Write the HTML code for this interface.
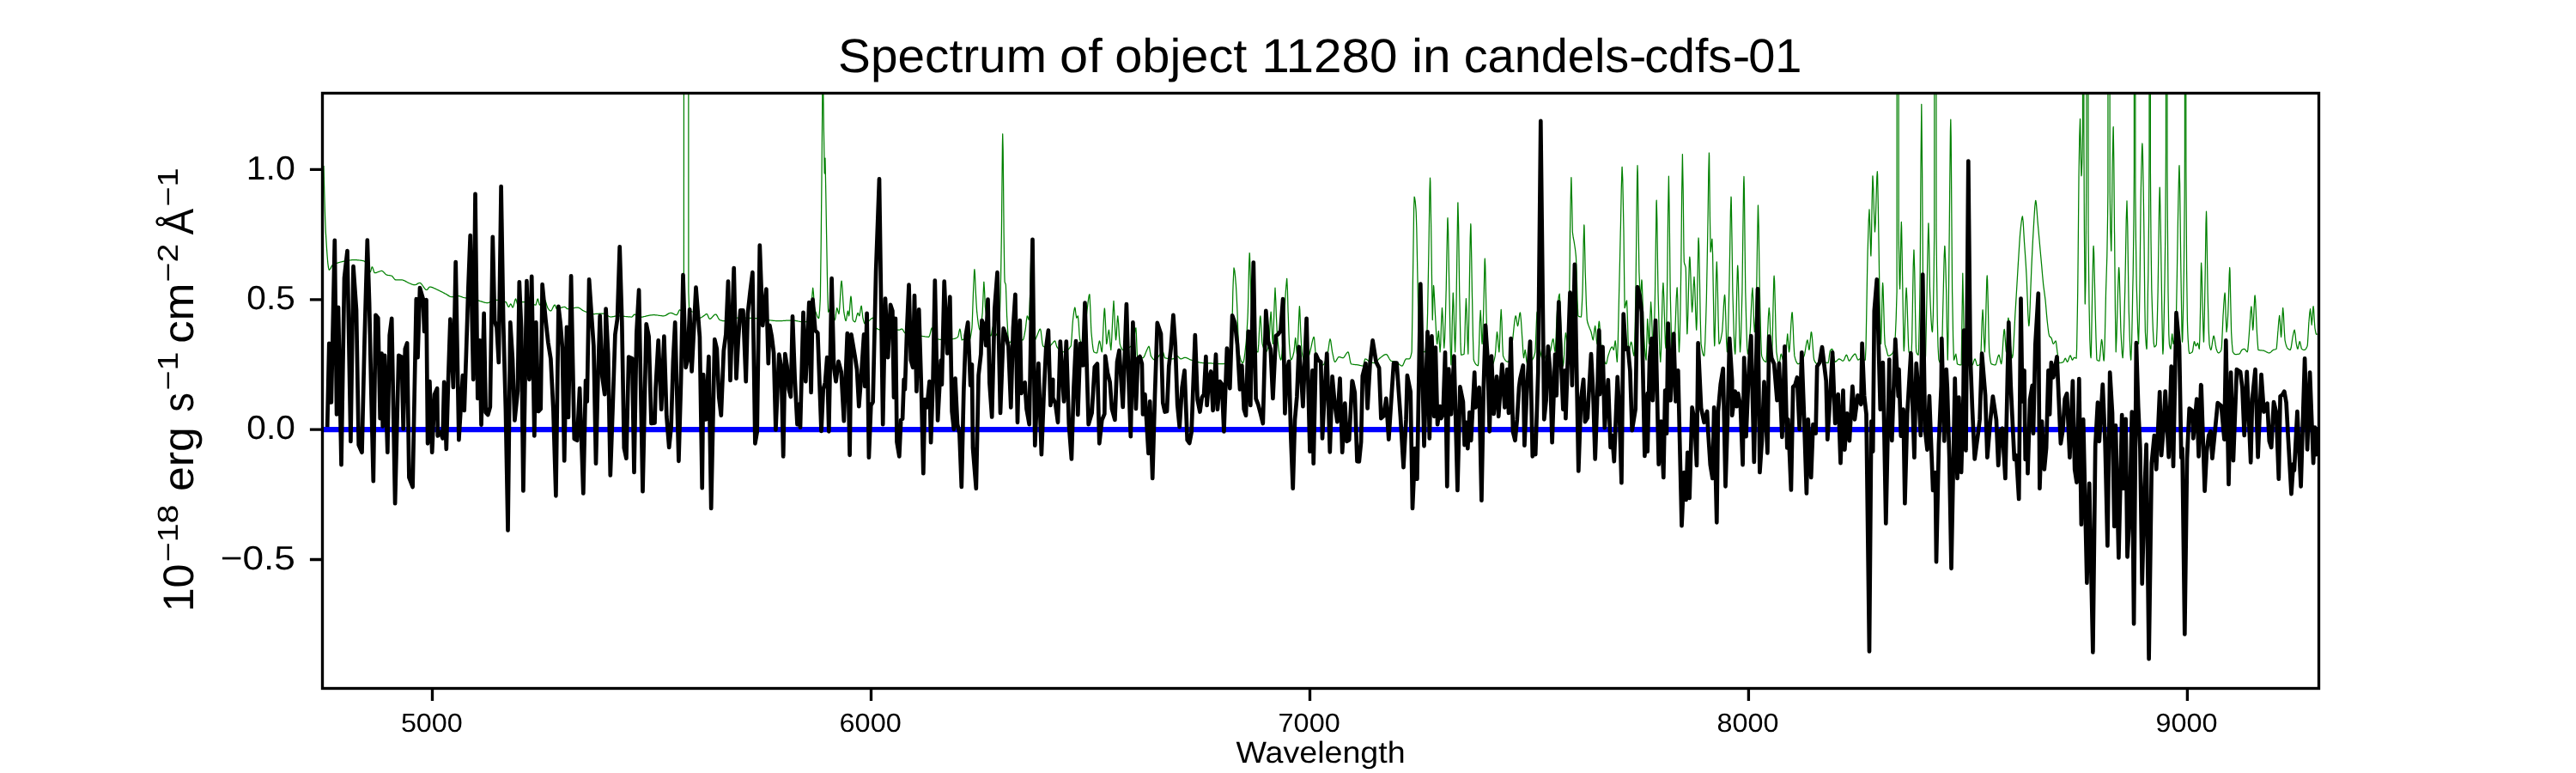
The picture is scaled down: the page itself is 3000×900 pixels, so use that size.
<!DOCTYPE html>
<html><head><meta charset="utf-8"><title>Spectrum</title>
<style>
html,body{margin:0;padding:0;background:#fff;}
body{width:3000px;height:900px;overflow:hidden;font-family:"Liberation Sans",sans-serif;}
svg{display:block;}
text{font-family:"Liberation Sans",sans-serif;fill:#000;}
</style></head><body>
<svg width="3000" height="900" viewBox="0 0 3000 900">
<rect width="3000" height="900" fill="#fff"/>
<defs><clipPath id="ax"><rect x="375.5" y="108.5" width="2325" height="693"/></clipPath></defs>
<g clip-path="url(#ax)" fill="none" stroke-linejoin="round" stroke-linecap="butt">
<path d="M375.5,500.1 L2700.5,500.1" stroke="#0000ff" stroke-width="6.2"/>
<path d="M377.0,193.1 L377.8,225.1 L378.6,252.6 L379.3,270.0 L379.4,271.2 L380.2,284.7 L381.0,296.7 L381.8,306.3 L382.6,312.4 L383.3,314.3 L383.4,314.2 L384.2,313.6 L385.0,312.4 L385.8,310.9 L386.6,309.4 L387.4,308.5 L387.5,308.4 L388.2,308.0 L389.0,307.6 L389.8,307.3 L390.6,307.0 L391.4,306.7 L392.2,306.4 L393.0,306.2 L393.3,306.1 L393.8,305.9 L394.6,305.7 L395.4,305.5 L396.2,305.2 L397.0,305.0 L397.8,304.8 L398.6,304.6 L399.4,304.4 L400.2,304.3 L400.3,304.2 L401.0,304.1 L401.8,303.9 L402.6,303.8 L403.4,303.6 L404.2,303.5 L405.0,303.3 L405.8,303.2 L406.6,303.1 L407.4,303.0 L408.2,302.9 L409.0,302.8 L409.8,302.7 L410.6,302.6 L411.4,302.6 L411.9,302.6 L412.2,302.6 L413.0,302.6 L413.8,302.6 L414.6,302.7 L415.4,302.7 L416.2,302.8 L417.0,302.8 L417.8,302.9 L418.6,303.0 L419.4,303.1 L420.2,303.2 L421.0,303.3 L421.8,303.4 L422.6,303.6 L423.4,303.7 L423.6,303.8 L424.2,304.0 L425.0,304.7 L425.8,305.7 L426.6,306.9 L427.4,308.2 L428.2,309.5 L428.2,309.6 L429.0,311.4 L429.8,313.8 L430.6,315.9 L431.3,316.6 L431.4,316.5 L432.2,314.2 L433.0,311.2 L433.4,310.8 L433.8,311.1 L434.6,313.3 L435.4,316.0 L436.2,317.7 L436.4,317.7 L437.0,317.7 L437.8,317.6 L438.6,317.3 L439.4,317.0 L440.2,316.7 L441.0,316.4 L441.8,316.0 L442.6,315.8 L443.4,315.5 L444.2,315.4 L444.5,315.4 L445.0,315.5 L445.8,315.9 L446.6,316.6 L447.4,317.5 L448.2,318.3 L449.0,319.2 L449.8,319.8 L450.4,320.1 L450.6,320.1 L451.4,320.3 L452.2,320.5 L453.0,320.6 L453.8,320.7 L454.6,320.8 L455.4,321.0 L456.2,321.2 L456.2,321.2 L457.0,321.8 L457.8,322.8 L458.6,323.9 L459.4,324.9 L460.2,325.7 L460.8,325.9 L461.0,325.9 L461.8,325.9 L462.6,325.9 L463.4,325.9 L464.2,325.9 L465.0,325.9 L465.8,325.9 L466.6,325.9 L467.4,325.9 L467.8,325.9 L468.2,325.9 L469.0,326.0 L469.8,326.3 L470.6,326.6 L471.4,327.0 L472.2,327.4 L473.0,327.9 L473.8,328.3 L474.6,328.8 L475.4,329.2 L476.0,329.4 L476.2,329.5 L477.0,329.8 L477.8,330.2 L478.6,330.5 L479.4,330.9 L480.2,331.2 L481.0,331.4 L481.8,331.6 L482.6,331.7 L483.0,331.7 L483.4,331.7 L484.2,331.5 L485.0,331.1 L485.8,330.6 L486.6,330.1 L487.4,329.7 L488.2,329.5 L488.8,329.4 L489.0,329.4 L489.8,329.7 L490.6,330.4 L491.4,331.4 L492.2,332.5 L493.0,333.7 L493.8,334.8 L494.6,335.9 L495.4,336.8 L496.2,337.4 L496.9,337.5 L497.0,337.5 L497.8,337.0 L498.6,336.0 L499.4,334.8 L500.2,334.1 L500.4,334.1 L501.0,334.1 L501.8,334.2 L502.6,334.4 L503.4,334.6 L504.2,334.9 L505.0,335.3 L505.8,335.6 L506.6,336.0 L507.4,336.4 L508.2,336.8 L509.0,337.2 L509.8,337.5 L509.8,337.6 L510.6,337.9 L511.4,338.3 L512.2,338.7 L513.0,339.1 L513.8,339.5 L514.6,339.9 L515.4,340.3 L516.2,340.7 L517.0,341.1 L517.8,341.6 L518.6,342.0 L519.1,342.2 L519.4,342.4 L520.2,342.8 L521.0,343.4 L521.8,343.9 L522.6,344.4 L523.4,344.9 L524.2,345.3 L525.0,345.5 L525.8,345.7 L526.1,345.7 L526.6,345.7 L527.4,345.6 L528.2,345.4 L529.0,345.3 L529.8,345.1 L530.6,344.9 L531.4,344.7 L532.2,344.6 L533.0,344.5 L533.0,344.5 L533.8,344.6 L534.6,344.7 L535.4,344.9 L536.2,345.2 L537.0,345.4 L537.8,345.7 L538.6,346.0 L539.4,346.3 L540.2,346.5 L541.0,346.7 L541.8,346.8 L542.4,346.9 L542.6,346.9 L543.4,346.9 L544.2,346.9 L545.0,346.9 L545.8,346.9 L546.6,346.9 L547.4,346.9 L548.2,346.9 L549.0,346.9 L549.3,346.9 L549.8,346.9 L550.6,347.0 L551.4,347.2 L552.2,347.5 L553.0,347.8 L553.8,348.2 L554.6,348.5 L555.4,349.0 L556.2,349.3 L557.0,349.7 L557.8,350.1 L558.6,350.3 L558.7,350.4 L559.4,350.6 L560.2,350.8 L561.0,351.1 L561.8,351.4 L562.6,351.6 L563.4,351.9 L564.2,352.1 L565.0,352.3 L565.8,352.5 L566.6,352.6 L567.4,352.7 L568.0,352.7 L568.2,352.7 L569.0,352.5 L569.8,352.1 L570.6,351.6 L571.4,351.0 L572.2,350.4 L573.0,349.9 L573.8,349.5 L574.6,349.2 L575.0,349.2 L575.4,349.2 L576.2,349.2 L577.0,349.2 L577.8,349.3 L578.6,349.3 L579.4,349.4 L580.2,349.5 L581.0,349.6 L581.8,349.7 L582.6,349.8 L583.4,350.0 L584.2,350.1 L585.0,350.3 L585.8,350.5 L586.6,350.8 L587.4,351.0 L588.2,351.3 L588.9,351.5 L589.0,351.5 L589.8,352.5 L590.6,354.3 L591.4,356.2 L592.2,357.3 L592.4,357.3 L593.0,356.9 L593.8,355.2 L594.6,353.9 L594.8,353.9 L595.4,354.6 L596.2,356.6 L597.0,358.0 L597.1,358.0 L597.8,357.0 L598.6,354.1 L599.4,350.8 L600.2,348.4 L600.6,348.0 L601.0,348.6 L601.8,351.7 L602.6,354.6 L602.9,355.0 L603.4,354.9 L604.2,354.4 L605.0,353.6 L605.8,352.7 L606.6,351.9 L607.4,351.5 L607.6,351.5 L608.2,351.5 L609.0,351.5 L609.8,351.5 L610.6,351.5 L611.4,351.5 L612.2,351.5 L612.2,351.5 L613.0,351.6 L613.8,351.7 L614.6,351.9 L615.4,352.2 L616.2,352.5 L617.0,352.8 L617.8,353.1 L618.6,353.5 L619.4,353.9 L620.2,354.2 L621.0,354.5 L621.8,354.7 L622.6,354.9 L623.4,355.0 L623.9,355.0 L624.2,354.7 L625.0,351.8 L625.8,348.6 L626.2,348.0 L626.6,348.5 L627.4,351.6 L628.2,354.6 L628.5,355.0 L629.0,354.9 L629.8,354.3 L630.6,353.4 L631.4,352.2 L632.2,351.0 L633.0,350.0 L633.8,349.4 L634.4,349.2 L634.6,349.3 L635.4,350.8 L636.2,353.5 L637.0,356.3 L637.8,358.4 L637.9,358.5 L638.6,359.6 L639.4,360.6 L640.2,361.5 L641.0,361.9 L641.4,362.0 L641.8,361.8 L642.6,360.8 L643.4,359.2 L644.2,357.4 L645.0,355.9 L645.8,355.1 L646.0,355.0 L646.6,355.7 L647.4,358.0 L648.2,359.6 L648.3,359.7 L649.0,359.6 L649.8,359.5 L650.6,359.3 L651.4,359.1 L652.2,358.8 L653.0,358.5 L653.8,358.2 L654.6,357.9 L655.4,357.7 L656.2,357.5 L657.0,357.4 L657.7,357.3 L657.8,357.4 L658.6,357.8 L659.4,358.5 L660.2,359.2 L661.0,359.7 L661.2,359.7 L661.8,359.7 L662.6,359.6 L663.4,359.5 L664.2,359.4 L665.0,359.3 L665.8,359.1 L666.6,358.9 L667.4,358.8 L668.2,358.6 L669.0,358.5 L669.8,358.3 L670.6,358.2 L671.4,358.1 L672.2,358.1 L672.8,358.0 L673.0,358.1 L673.8,358.2 L674.6,358.6 L675.4,359.0 L676.2,359.6 L677.0,360.2 L677.8,360.8 L678.6,361.4 L679.4,361.8 L679.8,362.0 L680.2,362.2 L681.0,362.5 L681.8,362.8 L682.6,363.2 L683.4,363.5 L684.2,363.8 L685.0,364.1 L685.8,364.4 L686.6,364.7 L687.4,364.9 L688.2,365.1 L689.0,365.3 L689.8,365.4 L690.6,365.5 L691.4,365.5 L691.4,365.5 L692.2,365.5 L693.0,365.5 L693.8,365.4 L694.6,365.4 L695.4,365.4 L696.2,365.3 L697.0,365.3 L697.8,365.2 L698.6,365.2 L699.4,365.1 L700.2,365.1 L701.0,365.1 L701.8,365.0 L702.6,365.0 L703.1,365.0 L703.4,365.0 L704.2,365.2 L705.0,365.6 L705.8,366.1 L706.6,366.6 L707.4,367.2 L708.2,367.7 L709.0,368.3 L709.8,368.7 L710.6,368.9 L711.2,369.0 L711.4,369.0 L712.2,368.9 L713.0,368.9 L713.8,368.7 L714.6,368.6 L715.4,368.4 L716.2,368.2 L717.0,368.1 L717.8,367.9 L718.6,367.9 L719.4,367.8 L719.4,367.8 L720.2,367.8 L721.0,367.9 L721.8,367.9 L722.6,367.9 L723.4,368.0 L724.2,368.1 L725.0,368.1 L725.8,368.2 L726.6,368.3 L727.4,368.4 L728.2,368.5 L729.0,368.6 L729.8,368.6 L730.6,368.7 L731.4,368.8 L732.2,368.9 L733.0,368.9 L733.8,368.9 L734.6,369.0 L735.4,369.0 L735.7,369.0 L736.2,368.8 L737.0,368.0 L737.8,367.0 L738.6,366.2 L739.2,366.0 L739.4,366.0 L740.2,366.7 L741.0,367.9 L741.8,369.1 L742.6,369.7 L742.7,369.7 L743.4,369.7 L744.2,369.6 L745.0,369.6 L745.8,369.5 L746.6,369.3 L747.4,369.2 L748.2,369.1 L749.0,368.9 L749.8,368.7 L750.6,368.5 L751.4,368.3 L752.2,368.1 L753.0,367.9 L753.8,367.7 L754.6,367.6 L755.4,367.4 L756.2,367.2 L757.0,367.1 L757.8,366.9 L758.6,366.8 L759.4,366.8 L760.2,366.7 L761.0,366.7 L761.3,366.7 L761.8,366.7 L762.6,366.7 L763.4,366.8 L764.2,366.8 L765.0,366.9 L765.8,367.0 L766.6,367.2 L767.4,367.3 L768.2,367.4 L769.0,367.5 L769.8,367.6 L770.6,367.7 L771.4,367.8 L772.2,367.8 L773.0,367.8 L773.0,367.8 L773.8,367.7 L774.6,367.5 L775.4,367.1 L776.2,366.6 L777.0,366.1 L777.8,365.6 L778.6,365.1 L779.4,364.7 L780.2,364.5 L781.0,364.3 L781.1,364.3 L781.8,364.4 L782.6,364.6 L783.4,364.9 L784.2,365.3 L785.0,365.7 L785.8,366.1 L786.6,366.4 L787.4,366.6 L788.1,366.7 L788.2,366.6 L789.0,365.7 L789.8,363.9 L790.6,362.0 L791.4,360.9 L791.6,360.8 L792.2,361.0 L793.0,361.7 L793.8,362.4 L794.6,363.0 L795.1,363.2 L795.4,361.1 L796.2,330.0 L796.4,316.6 L796.9,-3000.0 L797.0,-3000.0 L797.8,-3000.0 L798.6,-3000.0 L799.4,-3000.0 L800.2,-3000.0 L801.0,-3000.0 L801.4,-3000.0 L801.8,-289.9 L801.9,339.9 L802.6,358.6 L802.8,359.7 L803.4,360.6 L804.2,361.6 L805.0,362.3 L805.8,362.8 L806.6,363.0 L807.4,363.2 L807.9,363.2 L808.2,363.1 L809.0,362.7 L809.8,361.9 L810.6,361.0 L811.4,360.2 L812.2,359.7 L812.6,359.7 L813.0,360.6 L813.8,365.4 L814.6,369.7 L814.9,370.2 L815.4,370.1 L816.2,369.9 L817.0,369.5 L817.8,369.0 L818.6,368.4 L819.4,367.9 L819.5,367.8 L820.2,367.4 L821.0,366.7 L821.8,366.0 L822.6,365.6 L823.0,365.5 L823.4,365.7 L824.2,367.0 L825.0,368.9 L825.8,370.7 L826.5,371.3 L826.6,371.3 L827.4,371.1 L828.2,370.6 L829.0,369.8 L829.8,368.9 L830.6,368.0 L831.4,367.1 L832.2,366.5 L833.0,366.0 L833.5,366.0 L833.8,366.0 L834.6,366.8 L835.4,368.1 L836.2,369.7 L837.0,371.2 L837.8,372.2 L838.2,372.5 L838.6,372.7 L839.4,373.0 L840.2,373.2 L841.0,373.4 L841.8,373.6 L842.6,373.6 L842.8,373.6 L843.4,373.6 L844.2,373.6 L845.0,373.5 L845.8,373.3 L846.6,373.2 L847.4,373.0 L848.2,372.8 L849.0,372.5 L849.8,372.3 L850.6,372.0 L851.4,371.8 L852.2,371.5 L853.0,371.3 L853.8,371.0 L854.6,370.8 L855.4,370.6 L856.2,370.5 L857.0,370.3 L857.8,370.2 L858.6,370.2 L859.1,370.2 L859.4,370.2 L860.2,370.2 L861.0,370.2 L861.8,370.2 L862.6,370.2 L863.4,370.2 L864.2,370.2 L865.0,370.2 L865.8,370.2 L866.6,370.2 L867.4,370.2 L868.2,370.2 L869.0,370.2 L869.8,370.3 L870.6,370.3 L871.4,370.3 L872.2,370.3 L873.0,370.3 L873.8,370.3 L874.6,370.4 L875.4,370.4 L876.2,370.4 L877.0,370.4 L877.8,370.5 L878.6,370.5 L879.4,370.5 L880.2,370.5 L881.0,370.6 L881.8,370.6 L882.4,370.6 L882.6,370.6 L883.4,370.7 L884.2,370.8 L885.0,370.9 L885.8,371.0 L886.6,371.1 L887.4,371.3 L888.2,371.4 L889.0,371.6 L889.8,371.7 L890.6,371.9 L891.4,372.1 L892.2,372.2 L893.0,372.3 L893.8,372.4 L894.1,372.5 L894.6,372.5 L895.4,372.7 L896.2,372.8 L897.0,372.9 L897.8,373.0 L898.6,373.1 L899.4,373.2 L900.2,373.3 L901.0,373.4 L901.8,373.4 L902.6,373.5 L903.4,373.6 L904.2,373.6 L905.0,373.6 L905.7,373.6 L905.8,373.6 L906.6,373.6 L907.4,373.6 L908.2,373.6 L909.0,373.6 L909.8,373.5 L910.6,373.5 L911.4,373.5 L912.2,373.4 L913.0,373.4 L913.8,373.3 L914.6,373.3 L915.4,373.2 L916.2,373.2 L917.0,373.1 L917.8,373.1 L918.6,373.0 L919.4,373.0 L920.2,373.0 L921.0,373.0 L921.8,373.0 L922.0,373.0 L922.6,373.0 L923.4,373.0 L924.2,373.1 L925.0,373.2 L925.8,373.3 L926.6,373.4 L927.4,373.6 L928.2,373.7 L929.0,373.9 L929.8,374.0 L930.6,374.2 L931.4,374.3 L932.2,374.5 L933.0,374.6 L933.8,374.7 L934.6,374.8 L935.4,374.8 L936.0,374.8 L936.2,374.8 L937.0,374.8 L937.8,374.7 L938.6,374.6 L939.4,374.4 L940.2,374.1 L941.0,373.7 L941.8,373.3 L942.6,372.8 L943.0,372.5 L943.4,371.3 L944.2,365.0 L944.8,358.5 L945.0,357.0 L945.8,344.6 L946.6,335.4 L946.7,335.2 L947.4,341.4 L948.2,354.7 L948.6,358.5 L949.0,360.3 L949.8,362.7 L950.0,363.2 L950.6,364.9 L951.4,367.2 L952.2,369.2 L953.0,370.4 L953.5,370.6 L953.8,369.8 L954.6,361.1 L955.2,349.9 L955.4,343.5 L956.2,284.2 L956.8,225.0 L957.0,205.7 L957.8,113.6 L957.8,108.0 L958.3,69.9 L958.6,85.1 L958.8,108.0 L959.4,152.1 L960.2,201.1 L960.3,202.0 L961.0,184.1 L961.0,184.1 L961.6,215.0 L961.8,225.4 L962.6,273.6 L963.4,320.3 L964.1,349.9 L964.2,353.0 L964.6,363.2 L965.0,363.0 L965.8,361.4 L966.6,359.0 L966.7,358.5 L967.4,355.1 L968.2,350.2 L968.6,349.2 L969.0,352.3 L969.8,366.1 L970.0,367.8 L970.6,369.8 L971.4,371.7 L972.2,372.5 L972.3,372.5 L973.0,369.8 L973.8,362.9 L974.6,358.5 L974.7,358.5 L975.4,360.1 L976.2,363.6 L977.0,365.5 L977.0,365.5 L977.8,358.9 L978.6,344.6 L979.4,331.3 L980.0,327.1 L980.2,327.4 L981.0,335.7 L981.8,349.5 L982.6,361.3 L982.8,363.2 L983.4,366.9 L984.2,371.3 L985.0,373.6 L985.1,373.6 L985.8,371.4 L986.6,365.7 L987.4,362.0 L987.5,362.0 L988.2,365.9 L988.6,367.8 L989.0,366.4 L989.8,356.6 L990.6,346.6 L991.0,345.0 L991.4,347.3 L992.2,359.2 L993.0,370.8 L993.3,372.5 L993.8,373.3 L994.6,374.3 L995.4,374.8 L995.6,374.8 L996.2,374.1 L997.0,371.3 L997.8,367.7 L998.6,365.0 L999.1,364.3 L999.4,364.6 L1000.2,366.9 L1000.7,367.8 L1001.0,367.5 L1001.8,362.9 L1002.6,357.5 L1003.1,356.2 L1003.4,357.0 L1004.2,364.0 L1004.9,370.2 L1005.0,370.4 L1005.8,373.8 L1006.6,376.3 L1007.3,377.1 L1007.4,377.1 L1008.2,376.9 L1009.0,376.4 L1009.8,375.7 L1010.6,374.9 L1011.4,374.1 L1012.2,373.3 L1013.0,372.6 L1013.1,372.5 L1013.8,371.9 L1014.6,371.2 L1015.4,370.6 L1016.2,370.2 L1016.6,370.2 L1017.0,370.6 L1017.8,373.1 L1018.6,376.9 L1019.4,380.3 L1020.1,381.8 L1020.2,381.9 L1021.0,382.4 L1021.8,382.9 L1022.6,383.3 L1023.4,383.7 L1024.2,383.9 L1025.0,384.1 L1025.8,384.1 L1025.9,384.1 L1026.6,384.1 L1027.4,384.1 L1028.2,384.1 L1029.0,384.1 L1029.8,384.1 L1030.6,384.1 L1031.4,384.1 L1032.2,384.1 L1033.0,384.1 L1033.8,384.1 L1034.6,384.1 L1035.4,384.1 L1036.2,384.1 L1037.0,384.1 L1037.8,384.1 L1038.6,384.1 L1039.4,384.1 L1040.2,384.1 L1041.0,384.1 L1041.8,384.1 L1042.6,384.1 L1043.4,384.1 L1044.2,384.1 L1045.0,384.1 L1045.8,384.1 L1046.6,384.1 L1046.9,384.1 L1047.4,384.1 L1048.2,383.8 L1049.0,383.4 L1049.8,383.0 L1050.4,383.0 L1050.6,383.0 L1051.4,383.9 L1052.2,385.3 L1053.0,386.7 L1053.8,387.6 L1053.9,387.6 L1054.6,387.9 L1055.4,388.2 L1056.2,388.4 L1057.0,388.7 L1057.8,388.9 L1058.6,389.1 L1059.4,389.3 L1060.2,389.4 L1061.0,389.6 L1061.8,389.7 L1062.6,389.9 L1063.4,390.0 L1064.2,390.1 L1065.0,390.2 L1065.8,390.3 L1066.6,390.4 L1067.4,390.5 L1068.2,390.6 L1069.0,390.7 L1069.8,390.8 L1070.6,390.9 L1071.4,391.0 L1072.2,391.1 L1072.5,391.1 L1073.0,391.2 L1073.8,391.3 L1074.6,391.5 L1075.4,391.6 L1076.2,391.7 L1077.0,391.8 L1077.8,392.0 L1078.6,392.1 L1079.4,392.2 L1080.2,392.2 L1081.0,392.3 L1081.8,392.3 L1081.8,392.3 L1082.6,390.9 L1083.4,387.8 L1084.2,384.3 L1085.0,382.0 L1085.3,381.8 L1085.8,382.9 L1086.6,387.6 L1087.4,391.8 L1087.6,392.3 L1088.2,392.7 L1089.0,393.3 L1089.8,393.8 L1090.6,394.2 L1091.4,394.5 L1092.2,394.8 L1093.0,395.0 L1093.8,395.2 L1094.6,395.3 L1095.4,395.3 L1095.8,395.3 L1096.2,395.3 L1097.0,395.3 L1097.8,395.3 L1098.6,395.3 L1099.4,395.3 L1100.2,395.2 L1101.0,395.2 L1101.8,395.2 L1102.6,395.1 L1103.4,395.1 L1104.2,395.1 L1105.0,395.0 L1105.8,395.0 L1106.6,394.9 L1107.4,394.8 L1108.2,394.8 L1109.0,394.7 L1109.8,394.6 L1109.8,394.6 L1110.6,394.5 L1111.4,394.4 L1112.2,394.1 L1113.0,393.8 L1113.8,393.5 L1114.6,393.0 L1115.4,392.4 L1115.6,392.3 L1116.2,390.4 L1117.0,386.0 L1117.8,383.0 L1117.9,383.0 L1118.6,385.6 L1119.4,391.9 L1120.2,395.8 L1120.2,395.8 L1121.0,395.7 L1121.8,395.3 L1122.6,394.7 L1123.4,393.9 L1123.7,393.4 L1124.2,391.7 L1125.0,386.3 L1125.6,384.1 L1125.8,384.3 L1126.6,387.9 L1127.4,393.2 L1128.2,396.8 L1128.4,396.9 L1129.0,396.4 L1129.8,394.3 L1130.6,390.6 L1131.4,385.6 L1131.9,381.8 L1132.2,377.3 L1133.0,354.3 L1133.5,339.9 L1133.8,333.3 L1134.6,315.8 L1134.9,313.6 L1135.4,318.8 L1136.2,337.6 L1136.3,339.9 L1137.0,352.7 L1137.7,363.2 L1137.8,364.0 L1138.6,371.2 L1139.4,377.4 L1140.2,381.9 L1141.0,384.0 L1141.2,384.1 L1141.8,383.1 L1142.6,378.7 L1143.4,371.9 L1144.2,363.6 L1144.2,363.2 L1145.0,345.0 L1145.8,328.4 L1145.9,328.2 L1146.6,339.3 L1147.4,357.4 L1147.5,358.5 L1148.2,363.6 L1148.9,367.8 L1149.0,368.6 L1149.8,376.3 L1150.5,381.8 L1150.6,382.1 L1151.4,385.4 L1152.2,388.1 L1153.0,390.1 L1153.8,391.1 L1154.0,391.1 L1154.6,389.5 L1155.4,384.4 L1156.2,380.8 L1156.3,380.6 L1157.0,382.6 L1157.8,387.8 L1158.6,391.1 L1158.7,391.1 L1159.4,390.9 L1160.2,390.2 L1161.0,388.9 L1161.8,387.1 L1162.6,384.6 L1163.3,381.8 L1163.4,381.5 L1164.2,369.4 L1165.0,346.6 L1165.2,339.9 L1165.8,308.9 L1166.4,270.0 L1166.6,250.2 L1167.4,170.1 L1167.7,155.9 L1168.2,175.8 L1169.0,257.1 L1169.1,270.0 L1169.8,318.4 L1170.1,328.2 L1170.6,329.6 L1171.2,331.0 L1171.4,332.4 L1172.2,355.3 L1172.6,367.8 L1173.0,374.3 L1173.8,388.6 L1174.6,398.0 L1175.0,399.3 L1175.4,399.2 L1176.2,398.7 L1177.0,397.9 L1177.8,397.0 L1178.6,396.2 L1179.4,395.8 L1179.6,395.8 L1180.2,395.8 L1181.0,395.8 L1181.8,395.8 L1182.6,395.8 L1183.4,395.8 L1184.2,395.8 L1185.0,395.8 L1185.8,395.8 L1186.6,395.8 L1187.4,395.8 L1188.2,395.8 L1189.0,395.8 L1189.8,395.8 L1190.6,395.8 L1191.3,395.8 L1191.4,395.7 L1192.2,393.9 L1193.0,390.2 L1193.8,385.7 L1194.1,384.1 L1194.6,380.4 L1195.4,373.1 L1196.2,368.1 L1196.4,367.8 L1197.0,368.9 L1197.8,371.7 L1198.3,372.5 L1198.6,369.6 L1199.4,348.1 L1199.7,339.9 L1200.2,318.5 L1201.0,291.2 L1201.1,291.0 L1201.8,311.3 L1202.5,339.9 L1202.6,344.2 L1203.4,370.8 L1204.1,386.5 L1204.2,387.7 L1205.0,395.1 L1205.3,395.8 L1205.8,395.3 L1206.6,393.6 L1207.4,391.5 L1207.6,391.1 L1208.2,389.7 L1209.0,387.6 L1209.8,385.5 L1210.6,383.8 L1211.4,383.0 L1211.5,383.0 L1212.2,385.2 L1213.0,391.9 L1213.8,399.1 L1214.6,402.8 L1214.6,402.8 L1215.4,403.4 L1216.2,403.9 L1217.0,404.3 L1217.8,404.6 L1218.6,404.9 L1219.4,405.0 L1220.2,405.1 L1220.4,405.1 L1221.0,405.0 L1221.8,404.4 L1222.6,403.5 L1223.4,402.5 L1224.2,401.4 L1225.0,400.5 L1225.0,400.4 L1225.8,399.6 L1226.6,398.5 L1227.4,397.6 L1228.2,397.0 L1228.5,396.9 L1229.0,397.5 L1229.8,400.4 L1230.6,403.3 L1230.9,403.9 L1231.4,404.7 L1232.2,405.7 L1233.0,406.7 L1233.8,407.6 L1234.6,408.3 L1235.4,408.9 L1236.2,409.4 L1237.0,409.6 L1237.8,409.8 L1237.9,409.8 L1238.6,409.7 L1239.4,409.6 L1240.2,409.4 L1241.0,409.1 L1241.8,408.7 L1242.6,408.2 L1243.4,407.6 L1244.2,406.8 L1245.0,406.0 L1245.8,404.9 L1246.6,403.7 L1247.2,402.8 L1247.4,401.9 L1248.2,392.1 L1249.0,378.8 L1249.5,372.5 L1249.8,370.1 L1250.6,363.4 L1251.4,358.9 L1251.8,358.0 L1252.2,359.2 L1253.0,366.2 L1253.7,370.2 L1253.8,370.1 L1254.6,368.8 L1255.3,367.8 L1255.4,367.9 L1256.2,375.9 L1257.0,389.3 L1257.7,395.8 L1257.8,396.1 L1258.6,397.9 L1259.4,399.2 L1260.2,400.1 L1261.0,400.4 L1261.2,400.4 L1261.8,399.1 L1262.6,394.2 L1263.4,387.0 L1264.2,378.6 L1265.0,370.3 L1265.8,363.3 L1265.8,363.2 L1266.6,356.7 L1267.4,349.6 L1268.2,344.3 L1268.8,342.7 L1269.0,343.2 L1269.8,358.8 L1270.6,380.5 L1270.9,386.5 L1271.4,391.6 L1272.2,399.9 L1273.0,406.2 L1273.8,409.5 L1274.0,409.8 L1274.6,410.1 L1275.4,410.5 L1276.2,410.8 L1277.0,410.9 L1277.5,410.9 L1277.8,410.5 L1278.6,406.5 L1279.4,401.1 L1280.2,397.3 L1280.5,396.9 L1281.0,398.0 L1281.8,402.7 L1282.6,407.8 L1283.3,409.8 L1283.4,409.5 L1284.2,397.1 L1284.9,381.8 L1285.0,380.4 L1285.8,364.1 L1286.3,359.0 L1286.6,360.4 L1287.4,374.7 L1287.9,386.5 L1288.2,392.5 L1288.6,400.4 L1289.0,399.7 L1289.8,394.4 L1290.6,387.7 L1291.4,384.1 L1291.4,384.1 L1292.2,389.9 L1293.0,401.4 L1293.8,407.4 L1293.8,407.4 L1294.6,397.4 L1295.4,379.4 L1295.6,374.8 L1296.2,362.6 L1297.0,350.4 L1297.0,350.4 L1297.8,363.9 L1298.4,379.5 L1298.6,382.5 L1299.4,395.0 L1299.6,395.8 L1300.2,390.1 L1301.0,375.0 L1301.7,367.8 L1301.8,368.0 L1302.6,376.5 L1303.4,390.6 L1304.2,400.2 L1304.2,400.4 L1305.0,402.9 L1305.8,405.1 L1306.6,406.6 L1307.4,407.3 L1307.7,407.4 L1308.2,407.4 L1309.0,407.3 L1309.8,407.2 L1310.6,407.0 L1311.4,406.8 L1312.2,406.5 L1313.0,406.1 L1313.8,405.6 L1314.6,405.1 L1315.4,404.5 L1316.2,403.8 L1317.0,403.1 L1317.8,402.3 L1318.6,401.4 L1319.4,400.4 L1319.4,400.4 L1320.2,397.3 L1321.0,391.7 L1321.8,385.8 L1322.6,382.1 L1322.9,381.8 L1323.4,389.3 L1324.2,411.0 L1324.5,414.4 L1325.0,414.8 L1325.8,415.4 L1326.6,415.8 L1327.4,416.2 L1328.2,416.4 L1329.0,416.6 L1329.8,416.7 L1330.6,416.7 L1331.0,416.7 L1331.4,416.6 L1332.2,415.7 L1333.0,414.1 L1333.8,412.1 L1334.6,409.9 L1335.4,408.0 L1335.7,407.4 L1336.2,406.3 L1337.0,404.5 L1337.8,403.3 L1338.0,403.2 L1338.6,404.7 L1339.4,409.7 L1340.2,414.0 L1340.3,414.4 L1341.0,415.5 L1341.8,416.7 L1342.6,417.7 L1343.4,418.4 L1344.2,418.9 L1345.0,419.1 L1345.0,419.1 L1345.8,418.9 L1346.6,418.4 L1347.4,417.6 L1348.2,416.5 L1349.0,415.4 L1349.8,414.2 L1350.6,413.0 L1351.4,411.9 L1352.2,411.0 L1353.0,410.3 L1353.8,409.8 L1354.3,409.8 L1354.6,410.0 L1355.4,412.7 L1356.2,415.9 L1356.6,416.7 L1357.0,416.8 L1357.8,417.0 L1358.6,417.2 L1359.4,417.4 L1360.2,417.5 L1361.0,417.6 L1361.8,417.7 L1362.6,417.8 L1363.4,417.8 L1364.2,417.9 L1365.0,417.9 L1365.8,417.9 L1366.0,417.9 L1366.6,417.7 L1367.4,417.1 L1368.2,416.3 L1369.0,415.4 L1369.8,414.7 L1370.6,414.4 L1370.6,414.4 L1371.4,414.7 L1372.2,415.3 L1373.0,416.2 L1373.8,417.1 L1374.6,417.7 L1375.3,417.9 L1375.4,417.9 L1376.2,417.7 L1377.0,417.4 L1377.8,417.0 L1378.6,416.6 L1379.4,416.3 L1379.9,416.3 L1380.2,416.3 L1381.0,416.4 L1381.8,416.6 L1382.6,417.0 L1383.4,417.4 L1384.2,417.8 L1385.0,418.2 L1385.8,418.6 L1386.6,419.0 L1386.9,419.1 L1387.4,419.2 L1388.2,419.5 L1389.0,419.7 L1389.8,420.0 L1390.6,420.2 L1391.4,420.5 L1392.2,420.7 L1393.0,421.0 L1393.8,421.2 L1394.6,421.4 L1395.4,421.6 L1396.2,421.8 L1397.0,422.0 L1397.8,422.2 L1398.6,422.3 L1399.4,422.4 L1400.2,422.5 L1400.9,422.6 L1401.0,422.6 L1401.8,422.6 L1402.6,422.7 L1403.4,422.7 L1404.2,422.7 L1405.0,422.8 L1405.8,422.8 L1406.6,422.8 L1407.4,422.8 L1408.2,422.9 L1409.0,422.9 L1409.8,422.9 L1410.6,422.9 L1411.4,423.0 L1412.2,423.0 L1412.6,423.0 L1413.0,423.1 L1413.8,423.1 L1414.6,423.2 L1415.4,423.2 L1416.2,423.3 L1417.0,423.3 L1417.8,423.4 L1418.6,423.5 L1419.4,423.5 L1420.2,423.6 L1421.0,423.6 L1421.8,423.7 L1422.6,423.7 L1423.4,423.7 L1424.2,423.7 L1424.2,423.7 L1425.0,423.6 L1425.8,423.3 L1426.6,422.9 L1427.4,422.2 L1428.2,421.4 L1429.0,420.5 L1429.8,419.4 L1430.0,419.1 L1430.6,417.9 L1431.4,415.2 L1432.2,411.0 L1433.0,405.2 L1433.8,397.4 L1434.6,387.7 L1434.7,386.5 L1435.4,359.2 L1435.8,339.9 L1436.2,328.8 L1437.0,311.9 L1437.0,311.9 L1437.8,314.8 L1438.6,322.0 L1439.3,330.6 L1439.4,331.2 L1440.2,345.5 L1441.0,363.2 L1441.0,363.6 L1441.8,386.9 L1442.6,407.2 L1442.8,409.8 L1443.4,412.7 L1444.2,416.2 L1445.0,418.9 L1445.8,420.9 L1446.6,422.1 L1447.4,422.6 L1447.5,422.6 L1448.2,421.3 L1449.0,417.3 L1449.8,411.3 L1450.6,404.1 L1451.0,400.4 L1451.4,396.2 L1452.2,385.0 L1453.0,370.2 L1453.3,363.2 L1453.8,346.0 L1454.6,307.7 L1455.2,294.5 L1455.4,296.0 L1456.2,320.8 L1457.0,354.5 L1457.3,363.2 L1457.8,376.5 L1458.6,394.6 L1459.1,400.4 L1459.4,401.3 L1460.2,403.7 L1461.0,405.7 L1461.8,407.2 L1462.6,408.4 L1463.4,409.2 L1464.2,409.6 L1465.0,409.8 L1465.0,409.7 L1465.8,400.9 L1466.6,383.6 L1467.4,369.8 L1467.8,367.8 L1468.2,370.5 L1469.0,384.3 L1469.8,398.1 L1470.1,400.4 L1470.6,402.4 L1471.4,405.1 L1472.2,407.3 L1473.0,408.8 L1473.8,409.6 L1474.3,409.8 L1474.6,409.7 L1475.4,408.7 L1476.2,406.7 L1477.0,403.9 L1477.8,400.4 L1477.8,400.3 L1478.6,388.2 L1479.4,370.7 L1480.1,363.2 L1480.2,363.3 L1481.0,375.3 L1481.8,393.6 L1482.4,400.4 L1482.6,399.5 L1483.4,377.0 L1483.8,363.2 L1484.2,352.4 L1485.0,335.2 L1485.0,335.2 L1485.8,350.8 L1486.4,367.8 L1486.6,372.3 L1487.4,389.0 L1487.6,391.1 L1488.2,397.9 L1489.0,405.6 L1489.8,411.9 L1490.6,416.4 L1491.4,418.8 L1491.7,419.1 L1492.2,418.0 L1493.0,411.1 L1493.8,399.9 L1494.6,386.2 L1495.4,372.0 L1495.9,363.2 L1496.2,359.1 L1497.0,345.1 L1497.3,339.9 L1497.8,333.2 L1498.6,324.6 L1498.7,324.3 L1499.4,337.5 L1500.1,363.2 L1500.2,364.8 L1501.0,388.6 L1501.5,400.4 L1501.8,404.3 L1502.6,414.6 L1503.4,419.1 L1503.4,419.1 L1504.2,418.4 L1505.0,416.7 L1505.8,414.2 L1506.6,411.0 L1506.9,409.8 L1507.4,405.7 L1508.2,396.5 L1508.7,393.4 L1509.0,394.6 L1509.8,406.5 L1510.4,412.1 L1510.6,411.4 L1511.4,399.7 L1512.2,382.8 L1512.2,381.8 L1513.0,362.2 L1513.4,356.6 L1513.8,360.7 L1514.6,381.7 L1514.8,386.5 L1515.4,398.1 L1516.2,409.7 L1516.2,409.8 L1517.0,414.2 L1517.8,417.7 L1518.6,420.1 L1519.4,421.3 L1519.7,421.4 L1520.2,421.3 L1521.0,420.7 L1521.8,419.6 L1522.6,418.2 L1523.4,416.6 L1524.2,414.8 L1524.4,414.4 L1525.0,412.4 L1525.8,409.0 L1526.6,405.5 L1526.7,405.1 L1527.4,402.0 L1528.2,398.1 L1529.0,394.7 L1529.8,392.6 L1530.2,392.3 L1530.6,394.0 L1531.4,403.2 L1532.2,412.7 L1532.5,414.4 L1533.0,415.6 L1533.8,417.5 L1534.6,419.2 L1535.4,420.6 L1536.2,421.8 L1537.0,422.8 L1537.8,423.6 L1538.6,424.2 L1539.4,424.6 L1540.2,424.9 L1540.7,424.9 L1541.0,424.8 L1541.8,424.1 L1542.6,422.6 L1543.4,420.6 L1544.2,418.1 L1545.0,415.4 L1545.8,412.4 L1546.5,409.8 L1546.6,409.3 L1547.4,404.0 L1548.2,397.8 L1549.0,394.6 L1549.0,394.6 L1549.8,397.0 L1550.6,402.8 L1551.4,408.6 L1551.6,409.8 L1552.2,412.7 L1553.0,416.7 L1553.8,420.0 L1554.6,421.4 L1554.6,421.4 L1555.4,421.0 L1556.2,419.9 L1557.0,418.4 L1557.8,417.0 L1558.6,415.9 L1559.3,415.6 L1559.4,415.6 L1560.2,415.7 L1561.0,415.9 L1561.8,416.2 L1562.6,416.5 L1563.4,416.7 L1563.9,416.7 L1564.2,416.7 L1565.0,416.2 L1565.8,415.2 L1566.6,413.9 L1567.4,412.5 L1568.2,411.4 L1568.6,410.9 L1569.0,410.5 L1569.8,409.8 L1570.0,409.8 L1570.6,410.8 L1571.4,414.5 L1572.2,419.2 L1573.0,422.8 L1573.5,423.7 L1573.8,423.8 L1574.6,424.0 L1575.4,424.2 L1576.2,424.3 L1577.0,424.4 L1577.8,424.5 L1578.6,424.5 L1579.4,424.6 L1580.2,424.7 L1581.0,424.8 L1581.6,424.9 L1581.8,424.9 L1582.6,425.1 L1583.4,425.3 L1584.2,425.5 L1585.0,425.7 L1585.8,425.9 L1586.6,426.0 L1587.4,426.1 L1587.5,426.1 L1588.2,424.2 L1589.0,420.2 L1589.8,417.9 L1589.8,417.9 L1590.6,418.0 L1591.4,418.4 L1592.2,419.0 L1593.0,419.6 L1593.8,420.3 L1594.6,420.9 L1595.4,421.3 L1595.6,421.4 L1596.2,421.6 L1597.0,421.9 L1597.8,422.1 L1598.6,422.4 L1599.4,422.5 L1600.2,422.6 L1600.3,422.6 L1601.0,422.4 L1601.8,422.0 L1602.6,421.4 L1603.4,420.7 L1604.2,419.8 L1605.0,418.9 L1605.8,418.1 L1606.6,417.3 L1607.3,416.7 L1607.4,416.7 L1608.2,416.1 L1609.0,415.4 L1609.8,414.8 L1610.6,414.2 L1611.4,413.6 L1612.2,413.1 L1613.0,412.8 L1613.8,412.6 L1614.3,412.5 L1614.6,412.6 L1615.4,413.2 L1616.2,414.4 L1617.0,415.8 L1617.8,417.3 L1618.6,418.7 L1619.4,419.7 L1620.1,420.2 L1620.2,420.3 L1621.0,420.5 L1621.8,420.7 L1622.6,420.8 L1623.4,420.9 L1624.2,421.0 L1625.0,421.2 L1625.8,421.4 L1625.9,421.4 L1626.6,421.7 L1627.4,422.2 L1628.2,422.9 L1629.0,423.6 L1629.8,424.4 L1630.6,425.0 L1631.4,425.6 L1632.2,425.9 L1632.9,426.1 L1633.0,426.0 L1633.8,425.3 L1634.6,423.6 L1635.4,421.5 L1636.2,419.6 L1637.0,418.2 L1637.5,417.9 L1637.8,417.9 L1638.6,417.9 L1639.4,417.9 L1640.2,417.9 L1641.0,417.9 L1641.0,417.9 L1641.8,417.5 L1642.6,416.0 L1643.4,413.2 L1644.1,409.8 L1644.2,407.8 L1645.0,356.8 L1645.2,339.9 L1645.8,300.0 L1646.6,243.5 L1647.1,229.2 L1647.4,229.7 L1648.2,234.6 L1649.0,243.8 L1649.2,246.7 L1649.8,265.2 L1650.6,305.5 L1650.8,316.6 L1651.4,346.6 L1652.2,389.0 L1652.7,400.4 L1653.0,401.4 L1653.8,403.5 L1654.6,405.3 L1655.4,406.8 L1656.2,407.9 L1657.0,408.7 L1657.8,409.3 L1658.6,409.6 L1659.4,409.7 L1659.7,409.8 L1660.2,408.2 L1661.0,400.4 L1661.8,388.0 L1662.0,384.1 L1662.6,364.3 L1663.4,320.0 L1663.9,293.3 L1664.2,274.1 L1665.0,221.6 L1665.5,207.1 L1665.8,212.0 L1666.6,259.9 L1667.4,316.6 L1667.4,318.2 L1668.2,371.1 L1668.3,372.5 L1669.0,346.7 L1669.5,332.4 L1669.8,334.1 L1670.6,347.7 L1671.4,364.9 L1671.6,367.8 L1672.2,380.0 L1673.0,395.0 L1673.6,400.4 L1673.8,400.1 L1674.6,391.2 L1675.3,385.3 L1675.4,385.5 L1676.2,397.0 L1677.0,409.3 L1677.1,409.8 L1677.8,400.2 L1678.6,375.1 L1679.4,358.7 L1679.5,358.5 L1680.2,369.0 L1681.0,392.0 L1681.8,405.1 L1681.8,405.1 L1682.6,394.0 L1683.4,367.7 L1684.1,339.9 L1684.2,337.8 L1685.0,293.2 L1685.8,255.9 L1686.0,253.7 L1686.6,268.8 L1687.4,314.8 L1687.9,339.9 L1688.2,355.6 L1689.0,397.7 L1689.8,423.9 L1690.0,424.9 L1690.6,409.7 L1691.4,368.7 L1692.2,341.5 L1692.3,341.0 L1693.0,356.1 L1693.8,390.0 L1694.6,409.7 L1694.6,409.8 L1695.4,387.3 L1696.2,342.8 L1696.2,339.9 L1697.0,283.3 L1697.8,236.4 L1697.9,235.8 L1698.6,262.1 L1699.4,319.6 L1699.7,339.9 L1700.2,362.6 L1701.0,400.9 L1701.6,413.2 L1701.8,413.2 L1702.6,413.2 L1703.4,413.0 L1704.2,412.6 L1705.0,412.2 L1705.1,412.1 L1705.8,398.1 L1706.6,366.4 L1707.4,347.6 L1707.4,347.6 L1708.2,363.8 L1709.0,395.8 L1709.8,412.1 L1709.8,412.0 L1710.6,375.6 L1711.2,339.9 L1711.4,326.6 L1712.2,277.6 L1712.8,260.7 L1713.0,263.1 L1713.8,303.2 L1714.4,339.9 L1714.6,348.4 L1715.4,391.7 L1716.2,418.5 L1716.3,419.1 L1717.0,420.9 L1717.8,422.6 L1718.6,423.9 L1719.4,424.8 L1720.2,425.3 L1721.0,425.6 L1721.4,425.6 L1721.8,422.2 L1722.6,400.6 L1723.4,374.3 L1724.2,361.3 L1724.2,361.3 L1725.0,376.6 L1725.8,398.2 L1726.1,400.4 L1726.6,394.5 L1727.4,372.2 L1727.7,363.2 L1728.2,342.3 L1729.0,306.1 L1729.3,301.0 L1729.8,310.4 L1730.6,348.5 L1730.9,363.2 L1731.4,378.0 L1732.2,404.4 L1733.0,418.8 L1733.0,419.1 L1733.8,420.9 L1734.6,422.4 L1735.4,423.6 L1736.2,424.3 L1737.0,424.8 L1737.7,424.9 L1737.8,424.9 L1738.6,424.1 L1739.4,422.0 L1740.2,419.1 L1741.0,415.4 L1741.2,414.4 L1741.8,408.3 L1742.6,395.3 L1743.4,386.7 L1743.5,386.5 L1744.2,391.0 L1745.0,402.5 L1745.8,409.7 L1745.9,409.8 L1746.6,398.2 L1747.4,373.8 L1748.2,360.4 L1748.2,360.4 L1749.0,374.7 L1749.8,401.0 L1750.5,414.4 L1750.6,414.6 L1751.4,416.5 L1752.2,418.0 L1753.0,419.3 L1753.8,420.2 L1754.6,420.8 L1755.4,421.2 L1756.2,421.4 L1756.3,421.4 L1757.0,420.7 L1757.8,418.3 L1758.6,414.7 L1759.4,410.2 L1760.2,405.3 L1761.0,400.5 L1761.0,400.4 L1761.8,394.4 L1762.6,386.4 L1763.4,378.2 L1764.2,371.5 L1765.0,368.0 L1765.2,367.8 L1765.8,369.7 L1766.6,375.4 L1767.4,379.4 L1767.5,379.5 L1768.2,377.2 L1769.0,371.1 L1769.8,365.3 L1770.3,363.9 L1770.6,364.6 L1771.4,372.5 L1772.2,384.7 L1772.6,391.1 L1773.0,396.4 L1773.8,410.4 L1774.5,416.7 L1774.6,416.7 L1775.4,411.5 L1776.1,407.4 L1776.2,407.4 L1777.0,412.4 L1777.8,420.4 L1778.5,423.7 L1778.6,423.7 L1779.4,423.6 L1780.2,423.2 L1781.0,422.7 L1781.8,422.0 L1782.6,421.1 L1783.4,420.2 L1784.2,419.2 L1784.3,419.1 L1785.0,418.1 L1785.8,416.6 L1786.6,414.5 L1787.4,411.6 L1787.8,409.8 L1788.2,404.6 L1789.0,383.8 L1789.8,365.4 L1790.1,363.2 L1790.6,366.7 L1791.4,382.3 L1792.2,397.8 L1792.4,400.4 L1793.0,404.1 L1793.8,408.9 L1794.6,412.9 L1795.4,416.1 L1796.2,418.2 L1797.0,419.1 L1797.1,419.1 L1797.8,418.7 L1798.6,417.7 L1799.4,416.3 L1800.2,414.9 L1800.6,414.4 L1801.0,414.0 L1801.8,413.3 L1802.6,412.6 L1803.4,412.0 L1804.2,411.2 L1805.0,410.2 L1805.3,409.8 L1805.8,408.1 L1806.6,403.9 L1807.4,399.1 L1808.2,395.5 L1808.7,394.6 L1809.0,395.1 L1809.8,401.0 L1810.6,408.1 L1811.1,409.8 L1811.4,407.8 L1812.2,391.0 L1813.0,370.2 L1813.4,363.2 L1813.8,358.9 L1814.6,350.7 L1815.4,344.6 L1816.2,342.2 L1816.2,342.2 L1817.0,355.5 L1817.8,379.9 L1818.1,386.5 L1818.6,397.9 L1819.4,415.3 L1820.2,425.5 L1820.4,426.1 L1821.0,422.2 L1821.8,409.1 L1822.6,394.7 L1823.4,387.6 L1823.4,387.6 L1824.2,391.7 L1825.0,400.7 L1825.8,408.4 L1826.2,409.8 L1826.6,404.6 L1827.4,368.2 L1827.8,339.9 L1828.2,305.7 L1828.5,270.0 L1829.0,241.3 L1829.8,207.8 L1829.9,206.6 L1830.6,233.0 L1831.3,270.0 L1831.4,270.6 L1832.2,276.5 L1833.0,280.3 L1833.2,281.6 L1833.8,285.5 L1834.6,291.0 L1835.4,298.6 L1835.5,300.3 L1836.2,317.5 L1837.0,348.8 L1837.8,367.6 L1837.9,367.8 L1838.6,368.3 L1839.4,368.6 L1840.2,368.9 L1841.0,369.0 L1841.4,369.0 L1841.8,366.0 L1842.6,349.8 L1843.0,339.9 L1843.4,324.3 L1844.2,280.5 L1844.8,261.8 L1845.0,263.0 L1845.8,296.2 L1846.2,316.6 L1846.6,328.0 L1847.4,354.1 L1848.2,371.1 L1848.3,372.5 L1849.0,375.8 L1849.8,378.3 L1850.6,380.4 L1850.7,380.6 L1851.4,382.5 L1852.2,384.3 L1853.0,386.4 L1853.0,386.5 L1853.8,390.0 L1854.6,394.0 L1855.3,395.8 L1855.4,395.7 L1856.2,390.8 L1857.0,382.7 L1857.7,379.5 L1857.8,379.7 L1858.6,386.8 L1859.4,397.0 L1860.0,400.4 L1860.2,399.9 L1861.0,390.0 L1861.8,377.6 L1862.3,374.1 L1862.6,374.9 L1863.4,384.0 L1864.2,395.9 L1864.6,400.4 L1865.0,402.6 L1865.8,407.5 L1866.6,412.0 L1867.4,415.9 L1868.2,419.3 L1869.0,421.8 L1869.8,423.3 L1870.5,423.7 L1870.6,423.7 L1871.4,421.2 L1872.2,417.0 L1872.8,414.4 L1873.0,413.8 L1873.8,411.4 L1874.6,408.9 L1875.4,406.8 L1876.2,405.1 L1877.0,404.1 L1877.5,403.9 L1877.8,404.2 L1878.6,406.2 L1879.3,407.4 L1879.4,407.4 L1880.2,402.7 L1881.0,397.3 L1881.2,396.9 L1881.8,401.9 L1882.6,415.2 L1883.3,421.4 L1883.4,421.1 L1884.2,402.2 L1885.0,367.1 L1885.6,339.9 L1885.8,332.7 L1886.6,298.3 L1887.2,270.0 L1887.4,263.4 L1888.2,221.6 L1889.0,194.8 L1889.1,194.3 L1889.8,208.9 L1890.6,248.9 L1891.0,270.0 L1891.4,305.8 L1892.1,358.5 L1892.2,358.5 L1893.0,355.9 L1893.8,351.6 L1894.5,349.9 L1894.6,350.4 L1895.4,370.8 L1896.2,399.9 L1896.8,409.8 L1897.0,409.6 L1897.8,406.4 L1898.6,401.5 L1899.4,398.3 L1899.6,398.1 L1900.2,399.4 L1901.0,403.9 L1901.8,409.4 L1902.6,413.5 L1903.1,414.4 L1903.4,411.1 L1904.2,380.1 L1904.9,339.9 L1905.0,337.4 L1905.8,271.9 L1906.6,206.2 L1907.0,192.7 L1907.4,202.7 L1908.2,268.3 L1908.9,316.6 L1909.0,319.1 L1909.8,339.0 L1910.5,346.9 L1910.6,346.8 L1911.4,332.9 L1911.9,325.9 L1912.2,327.6 L1913.0,347.8 L1913.8,375.2 L1914.3,386.5 L1914.6,391.9 L1915.4,404.7 L1916.2,414.6 L1917.0,419.0 L1917.1,419.1 L1917.8,398.7 L1918.6,371.8 L1918.7,371.3 L1919.4,380.7 L1920.2,397.6 L1920.5,400.4 L1921.0,394.8 L1921.8,369.3 L1922.6,351.6 L1922.6,351.5 L1923.4,363.4 L1924.2,389.5 L1925.0,408.6 L1925.2,409.8 L1925.8,403.4 L1926.6,379.1 L1927.4,346.1 L1927.5,339.9 L1928.2,292.3 L1929.0,236.0 L1929.2,233.2 L1929.8,255.5 L1930.6,314.7 L1931.0,339.9 L1931.4,354.4 L1932.2,386.0 L1933.0,410.8 L1933.8,421.4 L1933.8,421.4 L1934.6,406.8 L1935.4,373.1 L1936.2,340.7 L1936.9,329.4 L1937.0,329.8 L1937.8,346.7 L1938.6,375.5 L1939.4,399.8 L1939.9,405.1 L1940.2,401.4 L1941.0,368.0 L1941.5,339.9 L1941.8,321.4 L1942.6,247.0 L1943.4,205.2 L1943.4,205.3 L1944.2,251.0 L1945.0,324.9 L1945.2,339.9 L1945.8,364.9 L1946.6,397.6 L1947.4,418.3 L1947.8,421.4 L1948.2,420.5 L1949.0,414.3 L1949.8,404.7 L1950.1,400.4 L1950.6,392.2 L1951.4,370.4 L1952.2,348.0 L1953.0,335.2 L1953.2,334.8 L1953.8,348.3 L1954.6,385.0 L1955.4,409.4 L1955.5,409.8 L1956.2,395.7 L1957.0,358.4 L1957.3,339.9 L1957.8,307.9 L1958.6,227.7 L1959.4,179.9 L1959.4,179.6 L1960.2,222.3 L1961.0,293.6 L1961.3,304.9 L1961.8,307.3 L1962.6,309.2 L1963.2,311.9 L1963.4,316.8 L1964.2,365.3 L1964.8,388.8 L1965.0,387.8 L1965.8,366.4 L1966.6,332.0 L1967.4,304.3 L1967.8,299.1 L1968.2,302.0 L1969.0,323.0 L1969.8,349.4 L1970.6,363.1 L1970.6,363.2 L1971.4,352.9 L1972.2,332.7 L1973.0,322.4 L1973.0,322.4 L1973.8,335.6 L1974.6,361.0 L1975.4,381.3 L1975.7,384.1 L1976.2,374.1 L1977.0,325.4 L1977.8,281.6 L1978.1,277.0 L1978.6,285.8 L1979.4,323.9 L1980.2,370.0 L1981.0,399.1 L1981.1,400.4 L1981.8,405.1 L1982.6,409.5 L1983.4,412.6 L1984.2,414.2 L1984.6,414.4 L1985.0,412.3 L1985.8,397.2 L1986.6,373.8 L1986.9,363.2 L1987.4,345.4 L1988.2,303.6 L1988.8,270.0 L1989.0,258.3 L1989.8,201.0 L1990.4,178.0 L1990.6,181.3 L1991.4,251.4 L1992.1,293.3 L1992.2,293.1 L1993.0,285.7 L1993.8,278.4 L1993.9,278.2 L1994.6,296.3 L1995.4,345.4 L1996.2,391.3 L1996.7,402.8 L1997.0,399.6 L1997.8,365.5 L1998.6,322.2 L1999.3,304.9 L1999.4,305.4 L2000.2,328.9 L2001.0,368.6 L2001.8,397.7 L2002.1,400.4 L2002.6,400.0 L2003.4,397.9 L2004.2,394.4 L2005.0,390.0 L2005.6,386.5 L2005.8,384.6 L2006.6,372.1 L2007.4,356.5 L2008.2,345.2 L2008.6,343.4 L2009.0,347.0 L2009.8,369.5 L2010.6,396.6 L2011.4,409.8 L2011.4,409.8 L2012.2,397.3 L2013.0,368.7 L2013.7,339.9 L2013.8,337.0 L2014.6,292.4 L2015.4,245.8 L2016.0,229.2 L2016.2,230.7 L2017.0,276.9 L2017.8,334.7 L2017.9,339.9 L2018.6,365.0 L2019.4,391.3 L2020.2,408.5 L2020.7,412.1 L2021.0,409.5 L2021.8,381.9 L2022.6,342.0 L2023.4,312.8 L2023.7,309.1 L2024.2,316.3 L2025.0,351.9 L2025.8,392.4 L2026.5,409.8 L2026.6,409.7 L2027.4,396.4 L2028.2,367.8 L2028.9,339.9 L2029.0,333.5 L2029.8,271.9 L2030.6,214.0 L2031.0,205.5 L2031.4,220.9 L2032.2,293.1 L2032.8,339.9 L2033.0,347.1 L2033.8,378.8 L2034.6,402.7 L2035.4,412.1 L2035.4,412.1 L2036.2,408.9 L2037.0,401.2 L2037.8,391.3 L2038.2,386.5 L2038.6,379.7 L2039.4,361.1 L2040.2,343.0 L2041.0,335.2 L2041.0,335.2 L2041.8,349.8 L2042.6,375.1 L2043.3,386.5 L2043.4,386.4 L2044.2,377.5 L2045.0,358.4 L2045.6,339.9 L2045.8,333.7 L2046.6,280.2 L2047.4,239.7 L2047.5,239.0 L2048.2,264.3 L2049.0,320.3 L2049.4,339.9 L2049.8,358.2 L2050.6,390.7 L2051.4,411.8 L2051.7,414.4 L2052.2,415.8 L2053.0,417.7 L2053.8,419.1 L2054.6,420.2 L2055.4,420.9 L2056.2,421.3 L2056.8,421.4 L2057.0,420.9 L2057.8,409.3 L2058.6,389.0 L2059.4,369.1 L2060.2,358.7 L2060.3,358.5 L2061.0,366.5 L2061.8,388.0 L2062.6,410.0 L2063.3,419.1 L2063.4,418.9 L2064.2,396.9 L2065.0,356.5 L2065.8,325.1 L2066.1,321.2 L2066.6,327.3 L2067.4,356.7 L2068.2,391.6 L2068.9,409.8 L2069.0,410.3 L2069.8,416.2 L2070.6,420.6 L2071.4,423.2 L2071.9,423.7 L2072.2,423.4 L2073.0,418.8 L2073.8,413.4 L2074.3,412.1 L2074.6,412.4 L2075.4,415.3 L2076.2,418.5 L2076.6,419.1 L2077.0,418.9 L2077.8,417.9 L2078.6,415.8 L2079.4,412.9 L2080.1,409.8 L2080.2,409.2 L2081.0,396.9 L2081.7,388.8 L2081.8,388.9 L2082.6,398.1 L2083.4,409.1 L2083.6,409.8 L2084.2,406.2 L2085.0,393.5 L2085.8,378.0 L2086.6,366.2 L2087.1,363.6 L2087.4,365.2 L2088.2,380.0 L2089.0,400.5 L2089.8,413.9 L2089.9,414.4 L2090.6,417.2 L2091.4,419.7 L2092.2,421.7 L2093.0,423.0 L2093.8,423.7 L2094.1,423.7 L2094.6,423.7 L2095.4,423.3 L2096.2,422.7 L2097.0,421.8 L2097.8,420.7 L2098.6,419.3 L2099.4,417.9 L2100.2,416.3 L2101.0,414.6 L2101.1,414.4 L2101.8,411.7 L2102.6,407.0 L2103.4,401.8 L2104.2,397.6 L2105.0,395.8 L2105.0,395.8 L2105.8,400.1 L2106.6,406.6 L2106.9,407.4 L2107.4,405.3 L2108.2,396.7 L2109.0,388.2 L2109.4,386.5 L2109.8,387.4 L2110.6,395.0 L2111.4,406.3 L2112.2,416.0 L2112.7,419.1 L2113.0,419.7 L2113.8,421.4 L2114.6,422.6 L2115.4,423.4 L2116.2,423.7 L2116.2,423.7 L2117.0,423.4 L2117.8,422.5 L2118.6,421.3 L2119.4,420.2 L2120.2,419.3 L2120.9,419.1 L2121.0,419.1 L2121.8,419.4 L2122.6,420.1 L2123.4,420.8 L2124.2,421.3 L2124.4,421.4 L2125.0,421.6 L2125.8,421.9 L2126.6,422.2 L2127.4,422.4 L2128.2,422.5 L2129.0,422.6 L2129.0,422.6 L2129.8,419.2 L2130.6,412.6 L2131.3,408.6 L2131.4,408.5 L2132.2,407.3 L2133.0,406.5 L2133.7,406.3 L2133.8,406.3 L2134.6,408.8 L2135.4,413.6 L2136.2,418.5 L2137.0,421.3 L2137.2,421.4 L2137.8,421.2 L2138.6,420.6 L2139.4,419.8 L2140.2,418.9 L2141.0,418.2 L2141.8,417.9 L2141.8,417.9 L2142.6,418.1 L2143.4,418.5 L2144.2,419.1 L2145.0,419.7 L2145.8,420.1 L2146.5,420.2 L2146.6,420.2 L2147.4,419.3 L2148.2,417.5 L2149.0,415.4 L2149.8,413.8 L2150.4,413.2 L2150.6,413.3 L2151.4,414.9 L2152.2,417.5 L2153.0,419.8 L2153.5,420.2 L2153.8,420.2 L2154.6,419.4 L2155.4,418.1 L2156.2,416.7 L2157.0,415.6 L2157.0,415.5 L2157.8,414.5 L2158.6,413.5 L2159.4,412.6 L2160.2,412.1 L2160.5,412.1 L2161.0,412.5 L2161.8,414.4 L2162.6,416.7 L2163.4,418.6 L2163.9,419.1 L2164.2,419.0 L2165.0,418.6 L2165.8,417.9 L2166.6,417.0 L2167.4,416.2 L2168.2,415.7 L2168.6,415.6 L2169.0,416.2 L2169.8,418.9 L2170.0,419.1 L2170.6,419.1 L2171.4,419.1 L2172.2,419.1 L2172.3,419.1 L2173.0,405.3 L2173.8,364.0 L2174.6,316.9 L2175.1,293.3 L2175.4,284.2 L2176.2,257.0 L2177.0,243.9 L2177.0,243.9 L2177.8,265.2 L2178.6,295.0 L2178.9,298.0 L2179.4,282.8 L2180.2,232.6 L2180.9,204.8 L2181.0,204.8 L2181.8,221.2 L2182.6,250.7 L2183.4,269.6 L2183.5,270.0 L2184.2,259.6 L2185.0,231.8 L2185.8,206.0 L2186.3,199.7 L2186.6,203.5 L2187.4,243.7 L2188.2,293.3 L2188.2,294.4 L2189.0,345.4 L2189.8,386.2 L2189.8,386.5 L2190.5,400.4 L2190.6,400.0 L2191.4,372.9 L2192.2,336.3 L2192.6,329.4 L2193.0,333.6 L2193.8,359.5 L2194.6,389.5 L2195.2,400.4 L2195.4,401.7 L2196.2,404.5 L2196.8,406.3 L2197.0,407.0 L2197.8,410.6 L2198.6,413.7 L2199.1,414.4 L2199.4,414.4 L2200.2,414.3 L2201.0,413.9 L2201.8,413.4 L2202.6,412.8 L2203.4,411.9 L2204.2,410.9 L2204.9,409.8 L2205.0,409.7 L2205.8,407.1 L2206.6,400.8 L2207.4,389.2 L2208.2,370.4 L2209.0,342.5 L2209.1,339.9 L2209.8,-2396.1 L2210.1,-3000.0 L2210.6,-1599.5 L2211.2,270.0 L2211.4,285.3 L2212.2,330.1 L2212.6,336.4 L2213.0,326.5 L2213.8,273.9 L2214.3,258.4 L2214.6,264.5 L2215.4,309.8 L2215.9,339.9 L2216.2,357.3 L2217.0,403.1 L2217.3,408.6 L2217.8,402.3 L2218.6,375.6 L2219.4,346.4 L2220.1,335.2 L2220.2,335.5 L2221.0,350.8 L2221.8,378.4 L2222.6,402.8 L2223.1,409.8 L2223.4,410.6 L2224.2,412.6 L2225.0,413.9 L2225.8,414.4 L2225.9,414.4 L2226.6,398.2 L2227.4,354.4 L2228.2,309.5 L2228.9,291.0 L2229.0,291.1 L2229.8,317.2 L2230.6,365.7 L2231.4,404.3 L2231.7,409.8 L2232.2,411.0 L2233.0,412.5 L2233.8,413.2 L2234.1,413.2 L2234.6,405.0 L2235.4,370.3 L2235.9,339.9 L2236.2,315.7 L2237.0,194.9 L2237.8,121.4 L2237.8,121.4 L2238.6,198.9 L2239.4,319.0 L2239.6,339.9 L2240.2,366.1 L2241.0,397.7 L2241.8,416.3 L2242.2,419.1 L2242.6,413.1 L2243.4,375.6 L2244.1,339.9 L2244.2,334.5 L2245.0,290.6 L2245.8,260.7 L2245.9,259.8 L2246.6,284.1 L2247.4,333.7 L2247.6,339.9 L2248.2,355.6 L2249.0,372.8 L2249.8,383.8 L2250.4,386.5 L2250.6,385.5 L2251.4,366.5 L2252.2,318.3 L2252.7,270.0 L2253.0,-266.9 L2253.8,-2971.4 L2253.9,-3000.0 L2254.6,-728.5 L2255.0,270.0 L2255.4,309.2 L2256.2,368.9 L2257.0,403.1 L2257.8,417.6 L2258.0,419.1 L2258.6,420.7 L2259.4,422.4 L2260.2,423.5 L2260.8,423.7 L2261.0,423.1 L2261.8,401.2 L2262.6,364.1 L2263.2,339.9 L2263.4,331.6 L2264.2,298.3 L2264.8,286.3 L2265.0,287.2 L2265.8,306.6 L2266.6,337.1 L2266.7,339.9 L2267.4,381.1 L2268.2,418.4 L2268.3,419.1 L2269.0,385.4 L2269.8,304.2 L2270.2,270.0 L2270.6,228.6 L2271.4,152.9 L2271.8,139.1 L2272.2,158.9 L2273.0,265.0 L2273.6,339.9 L2273.8,348.3 L2274.6,394.0 L2275.4,418.5 L2275.5,419.1 L2276.2,417.7 L2277.0,414.2 L2277.8,412.1 L2277.8,412.1 L2278.6,417.1 L2279.4,423.6 L2279.5,423.7 L2280.2,424.1 L2281.0,424.4 L2281.8,424.6 L2282.6,424.8 L2283.4,424.9 L2284.1,424.9 L2284.2,424.5 L2285.0,367.5 L2285.8,318.2 L2285.8,318.3 L2286.6,355.4 L2287.4,405.0 L2287.6,409.8 L2288.2,411.9 L2289.0,414.6 L2289.8,416.9 L2290.6,418.8 L2291.4,420.5 L2292.2,421.8 L2293.0,422.9 L2293.8,423.7 L2294.6,424.2 L2295.4,424.6 L2296.2,424.8 L2296.9,424.9 L2297.0,424.9 L2297.8,423.6 L2298.6,420.9 L2299.4,418.6 L2300.0,417.9 L2300.2,418.0 L2301.0,420.2 L2301.8,423.4 L2302.6,425.5 L2302.8,425.6 L2303.4,425.5 L2304.2,425.3 L2305.0,424.8 L2305.8,424.2 L2306.3,423.7 L2306.6,421.0 L2307.4,400.8 L2308.2,375.0 L2309.0,360.9 L2309.1,360.8 L2309.8,372.3 L2310.6,396.5 L2311.4,409.8 L2311.4,409.8 L2312.2,391.9 L2313.0,355.5 L2313.8,325.5 L2314.2,320.8 L2314.6,326.3 L2315.4,358.5 L2316.2,395.7 L2316.7,409.8 L2317.0,412.2 L2317.8,418.8 L2318.6,422.8 L2319.1,423.7 L2319.4,423.9 L2320.2,424.2 L2321.0,424.5 L2321.8,424.7 L2322.6,424.8 L2323.4,424.9 L2323.7,424.9 L2324.2,424.5 L2325.0,422.4 L2325.8,419.2 L2326.6,416.0 L2327.4,413.8 L2327.9,413.2 L2328.2,413.5 L2329.0,416.7 L2329.8,421.0 L2330.6,423.7 L2330.7,423.7 L2331.4,419.8 L2332.2,408.3 L2333.0,394.8 L2333.8,385.1 L2334.2,383.4 L2334.6,385.3 L2335.4,396.8 L2336.2,408.1 L2336.5,409.8 L2337.0,405.9 L2337.8,387.8 L2338.6,371.7 L2338.9,370.2 L2339.4,373.2 L2340.2,385.4 L2341.0,398.2 L2341.2,400.4 L2341.8,406.0 L2342.6,413.0 L2343.4,416.6 L2343.5,416.7 L2344.2,413.3 L2345.0,402.1 L2345.8,386.7 L2346.6,370.7 L2347.0,363.2 L2347.4,357.2 L2348.2,343.8 L2349.0,330.2 L2349.8,316.7 L2350.5,304.9 L2350.6,303.8 L2351.4,290.5 L2352.2,277.9 L2352.8,270.0 L2353.0,268.6 L2353.8,260.8 L2354.6,254.5 L2355.4,251.8 L2355.4,251.8 L2356.2,258.5 L2357.0,272.9 L2357.5,281.6 L2357.8,285.8 L2358.6,297.2 L2359.4,309.2 L2359.8,316.6 L2360.2,323.8 L2361.0,344.8 L2361.8,365.7 L2362.6,378.4 L2362.9,379.5 L2363.4,375.3 L2364.2,357.3 L2365.0,333.8 L2365.7,316.6 L2365.8,313.7 L2366.6,296.6 L2367.4,280.4 L2368.0,270.0 L2368.2,266.6 L2369.0,252.7 L2369.8,240.3 L2370.6,233.7 L2370.8,233.4 L2371.4,236.4 L2372.2,246.1 L2373.0,257.0 L2373.1,258.4 L2373.8,266.0 L2374.6,275.0 L2375.0,279.3 L2375.4,283.9 L2376.2,292.7 L2377.0,301.5 L2377.3,304.9 L2377.8,310.4 L2378.6,319.7 L2379.4,328.2 L2379.6,330.6 L2380.2,335.3 L2381.0,341.3 L2381.8,347.7 L2382.0,349.2 L2382.6,355.8 L2383.4,365.4 L2384.2,373.9 L2384.3,374.8 L2385.0,381.0 L2385.8,387.4 L2386.6,391.1 L2386.6,391.1 L2387.4,392.1 L2388.2,392.6 L2388.9,393.4 L2389.0,393.5 L2389.8,396.0 L2390.6,399.2 L2391.3,400.4 L2391.4,400.4 L2392.2,399.6 L2393.0,398.1 L2393.8,397.0 L2394.1,396.9 L2394.6,398.7 L2395.4,405.4 L2395.9,409.8 L2396.2,411.4 L2397.0,417.2 L2397.8,421.7 L2398.3,422.6 L2398.6,422.6 L2399.4,422.5 L2400.2,422.4 L2401.0,422.2 L2401.8,421.9 L2402.6,421.6 L2402.9,421.4 L2403.4,420.8 L2404.2,418.9 L2405.0,417.3 L2405.3,417.2 L2405.8,417.8 L2406.6,419.8 L2407.4,421.3 L2407.6,421.4 L2408.2,420.8 L2409.0,418.7 L2409.8,416.2 L2410.6,414.3 L2411.1,413.9 L2411.4,414.2 L2412.2,416.3 L2413.0,418.6 L2413.4,419.1 L2413.8,418.9 L2414.6,417.6 L2415.4,416.4 L2415.7,416.3 L2416.2,416.4 L2417.0,416.8 L2417.8,417.2 L2418.1,417.2 L2418.6,405.7 L2419.4,360.0 L2419.7,339.9 L2420.2,293.1 L2421.0,207.1 L2421.1,200.1 L2421.8,158.6 L2422.5,138.4 L2422.6,139.4 L2423.4,185.6 L2423.9,204.8 L2424.2,203.4 L2425.0,182.7 L2425.5,153.5 L2425.8,-1012.6 L2426.2,-3000.0 L2426.6,-1364.5 L2426.9,153.5 L2427.4,268.0 L2428.2,352.5 L2428.3,353.9 L2429.0,324.8 L2429.8,204.7 L2430.0,153.5 L2430.6,-2221.8 L2430.9,-3000.0 L2431.4,-1639.7 L2432.0,270.0 L2432.2,287.2 L2433.0,354.6 L2433.8,395.3 L2434.6,414.0 L2435.1,416.7 L2435.4,411.0 L2436.2,367.7 L2436.7,339.9 L2437.0,326.1 L2437.8,290.6 L2438.1,286.3 L2438.6,294.2 L2439.4,328.0 L2440.2,363.1 L2440.2,363.2 L2441.0,393.6 L2441.8,416.9 L2442.1,419.1 L2442.6,419.5 L2443.4,419.9 L2444.2,420.2 L2444.8,420.2 L2445.0,420.1 L2445.8,413.7 L2446.6,403.3 L2447.4,395.9 L2447.6,395.3 L2448.2,398.2 L2449.0,408.7 L2449.8,418.5 L2450.2,420.2 L2450.6,416.6 L2451.4,391.1 L2452.2,354.9 L2452.5,339.9 L2453.0,324.2 L2453.8,298.6 L2454.6,251.0 L2454.9,223.4 L2455.4,-1148.0 L2456.0,-3000.0 L2456.2,-2832.2 L2457.0,-32.2 L2457.2,223.4 L2457.8,265.7 L2458.6,290.8 L2458.8,292.1 L2459.4,256.2 L2460.0,200.1 L2460.2,188.1 L2461.0,149.4 L2461.2,147.7 L2461.8,187.0 L2462.5,270.0 L2462.6,273.4 L2463.4,360.0 L2464.2,409.8 L2464.2,409.8 L2465.0,392.4 L2465.8,363.8 L2465.8,363.2 L2466.6,336.2 L2467.4,313.7 L2467.7,311.5 L2468.2,319.1 L2469.0,349.8 L2469.8,381.2 L2470.0,386.5 L2470.6,398.2 L2471.4,411.8 L2472.1,416.7 L2472.2,416.6 L2473.0,402.7 L2473.8,374.3 L2474.6,342.6 L2474.7,339.9 L2475.4,302.9 L2476.2,256.4 L2477.0,233.9 L2477.0,233.9 L2477.8,263.0 L2478.6,321.4 L2479.3,363.2 L2479.4,365.5 L2480.2,392.1 L2481.0,412.6 L2481.6,419.1 L2481.8,418.5 L2482.6,398.1 L2483.4,359.2 L2483.7,339.9 L2484.2,318.6 L2485.0,257.3 L2485.4,200.1 L2485.8,-1903.2 L2486.1,-3000.0 L2486.6,-962.4 L2486.9,223.4 L2487.4,277.7 L2488.2,331.0 L2489.0,359.1 L2489.1,363.2 L2489.8,387.8 L2490.5,400.4 L2490.6,400.0 L2491.4,369.9 L2491.9,339.9 L2492.2,318.8 L2493.0,244.0 L2493.3,223.4 L2493.8,199.2 L2494.6,170.6 L2494.9,167.0 L2495.4,177.1 L2496.2,223.4 L2496.6,246.7 L2497.0,279.2 L2497.8,351.9 L2498.4,386.5 L2498.6,389.8 L2499.4,402.4 L2500.0,406.3 L2500.2,405.2 L2501.0,370.2 L2501.4,339.9 L2501.8,320.1 L2502.6,249.9 L2503.0,176.8 L2503.4,-2441.9 L2503.5,-3000.0 L2504.2,-342.6 L2504.4,200.1 L2505.0,278.8 L2505.8,336.3 L2506.6,363.2 L2506.6,363.6 L2507.4,384.5 L2508.2,399.2 L2508.9,403.9 L2509.0,403.9 L2509.8,403.6 L2510.6,402.7 L2511.2,401.6 L2511.4,400.6 L2512.2,379.0 L2513.0,344.4 L2513.1,339.9 L2513.8,295.6 L2514.6,237.2 L2515.2,218.1 L2515.4,220.2 L2516.2,259.7 L2517.0,313.1 L2517.1,316.6 L2517.8,363.5 L2518.6,406.7 L2518.9,412.1 L2519.4,405.6 L2520.2,372.7 L2520.8,339.9 L2521.0,328.7 L2521.8,273.1 L2522.4,176.8 L2522.6,-450.2 L2523.1,-3000.0 L2523.4,-2228.6 L2524.0,200.1 L2524.2,238.5 L2525.0,340.6 L2525.8,389.1 L2526.4,400.4 L2526.6,401.8 L2527.4,405.3 L2528.0,406.3 L2528.2,405.6 L2529.0,394.8 L2529.6,388.8 L2529.8,389.2 L2530.6,397.7 L2531.0,400.4 L2531.4,400.0 L2532.2,395.9 L2533.0,387.9 L2533.8,376.4 L2534.5,363.2 L2534.6,361.7 L2535.4,318.9 L2536.2,270.0 L2536.2,268.3 L2537.0,225.0 L2537.8,194.7 L2538.0,192.7 L2538.6,213.6 L2539.4,280.2 L2539.9,316.6 L2540.2,335.8 L2541.0,384.9 L2541.5,398.1 L2541.8,394.7 L2542.6,358.9 L2542.9,339.9 L2543.4,313.4 L2544.2,227.3 L2544.4,176.8 L2545.0,-2993.5 L2545.0,-3000.0 L2545.8,105.7 L2545.9,200.1 L2546.6,315.0 L2547.4,373.5 L2547.8,386.5 L2548.2,395.0 L2549.0,407.6 L2549.7,411.4 L2549.8,411.4 L2550.6,411.3 L2551.4,411.0 L2552.2,410.5 L2553.0,409.9 L2553.2,409.8 L2553.8,407.3 L2554.6,401.5 L2555.4,397.7 L2555.5,397.6 L2556.2,399.3 L2557.0,402.3 L2557.3,402.8 L2557.8,402.4 L2558.6,400.5 L2559.4,399.3 L2559.4,399.3 L2560.2,401.7 L2561.0,405.7 L2561.3,406.3 L2561.8,395.2 L2562.5,363.2 L2562.6,357.6 L2563.4,311.0 L2563.6,306.1 L2564.2,317.3 L2565.0,352.5 L2565.3,363.2 L2565.8,383.0 L2566.4,398.1 L2566.6,396.8 L2567.4,363.6 L2567.8,339.9 L2568.2,317.8 L2569.0,260.6 L2569.5,246.2 L2569.8,253.9 L2570.6,308.6 L2571.1,339.9 L2571.4,352.5 L2572.2,384.1 L2573.0,400.4 L2573.0,400.7 L2573.8,405.1 L2574.6,407.3 L2574.8,407.4 L2575.4,406.1 L2576.2,401.2 L2577.0,395.4 L2577.8,391.5 L2578.1,391.1 L2578.6,392.1 L2579.4,396.3 L2580.2,401.7 L2581.0,405.9 L2581.1,406.3 L2581.8,408.2 L2582.6,410.1 L2583.4,410.9 L2583.4,410.9 L2584.2,410.8 L2585.0,410.2 L2585.8,409.3 L2586.6,408.1 L2586.9,407.4 L2587.4,403.4 L2588.2,386.6 L2589.0,367.8 L2589.3,363.2 L2589.8,354.9 L2590.6,343.9 L2591.1,341.0 L2591.4,343.6 L2592.2,368.6 L2593.0,386.5 L2593.0,386.5 L2593.8,380.6 L2594.6,367.7 L2594.8,363.2 L2595.4,348.0 L2596.2,319.6 L2596.7,311.5 L2597.0,315.3 L2597.8,352.6 L2598.6,386.5 L2598.6,386.7 L2599.4,400.4 L2600.2,408.8 L2600.4,409.8 L2601.0,410.7 L2601.8,411.8 L2602.6,412.4 L2603.2,412.5 L2603.4,412.5 L2604.2,412.5 L2605.0,412.5 L2605.8,412.4 L2606.6,412.3 L2607.4,412.2 L2607.9,412.1 L2608.2,411.9 L2609.0,410.8 L2609.8,409.1 L2610.6,407.7 L2610.9,407.4 L2611.4,407.1 L2612.2,406.7 L2613.0,406.4 L2613.7,406.3 L2613.8,406.3 L2614.6,406.8 L2615.4,407.9 L2616.2,409.0 L2617.0,409.7 L2617.2,409.8 L2617.8,407.4 L2618.6,398.7 L2619.4,388.2 L2619.5,386.5 L2620.2,377.1 L2621.0,364.0 L2621.8,357.0 L2621.9,356.9 L2622.6,366.0 L2623.4,381.7 L2623.7,384.1 L2624.2,380.1 L2625.0,361.6 L2625.8,345.4 L2626.1,343.8 L2626.6,348.0 L2627.4,364.7 L2628.2,383.1 L2628.4,386.5 L2629.0,396.4 L2629.8,406.6 L2630.0,407.4 L2630.6,407.6 L2631.4,407.7 L2632.2,407.8 L2633.0,407.9 L2633.8,407.9 L2634.6,408.0 L2635.4,408.0 L2635.8,408.1 L2636.2,408.2 L2637.0,408.5 L2637.8,408.8 L2638.6,409.3 L2639.4,409.7 L2640.2,410.1 L2641.0,410.5 L2641.8,410.8 L2642.6,410.9 L2642.8,410.9 L2643.4,410.8 L2644.2,410.3 L2645.0,409.6 L2645.8,408.8 L2646.6,408.0 L2647.4,407.5 L2647.5,407.4 L2648.2,407.2 L2649.0,407.0 L2649.8,406.8 L2650.6,406.5 L2651.0,406.3 L2651.4,404.4 L2652.2,394.9 L2652.8,386.5 L2653.0,384.9 L2653.8,374.3 L2654.6,367.5 L2654.7,367.4 L2655.4,374.9 L2656.2,389.5 L2656.6,392.3 L2657.0,388.8 L2657.8,371.4 L2658.6,358.7 L2658.7,358.5 L2659.4,366.1 L2660.2,383.5 L2661.0,395.7 L2661.0,395.8 L2661.8,399.7 L2662.6,402.6 L2663.4,404.5 L2663.8,405.1 L2664.2,405.5 L2665.0,406.3 L2665.8,406.9 L2666.6,407.3 L2667.3,407.4 L2667.4,407.4 L2668.2,404.8 L2669.0,399.6 L2669.8,394.0 L2670.3,391.1 L2670.6,389.8 L2671.4,386.0 L2672.2,384.1 L2672.2,384.1 L2673.0,388.6 L2673.8,396.8 L2674.3,400.4 L2674.6,402.0 L2675.4,405.4 L2675.9,406.3 L2676.2,405.9 L2677.0,402.4 L2677.8,398.5 L2678.2,397.6 L2678.6,398.1 L2679.4,401.7 L2680.2,405.5 L2680.6,406.3 L2681.0,406.5 L2681.8,407.0 L2682.6,407.3 L2683.4,407.4 L2683.6,407.4 L2684.2,407.3 L2685.0,406.7 L2685.8,405.6 L2686.6,404.0 L2687.1,402.8 L2687.4,400.7 L2688.2,387.5 L2688.9,374.8 L2689.0,374.4 L2689.8,364.7 L2690.6,359.7 L2690.6,359.7 L2691.4,368.9 L2692.2,378.3 L2692.2,378.3 L2693.0,370.1 L2693.8,358.0 L2694.1,356.6 L2694.6,360.7 L2695.4,374.7 L2695.9,381.8 L2696.2,383.5 L2697.0,388.0 L2697.6,389.3 L2697.8,389.3 L2698.6,388.9 L2698.7,388.8" stroke="#008000" stroke-width="1.25"/>
<path d="M381.2,497.1 L383.3,399.9 L385.8,468.5 L389.8,279.9 L392.1,482.5 L394.0,357.9 L397.5,541.2 L401.0,323.6 L404.5,292.0 L408.4,513.9 L411.5,310.2 L415.0,360.8 L417.7,518.0 L421.5,526.7 L424.6,393.7 L427.8,279.5 L430.1,353.1 L432.4,460.0 L434.8,560.1 L437.5,366.8 L440.3,370.2 L442.7,487.1 L444.5,411.5 L445.7,496.5 L448.0,413.8 L451.3,526.7 L453.7,390.2 L456.2,370.8 L460.1,586.1 L464.3,413.8 L467.8,415.6 L469.7,499.5 L471.8,406.3 L474.1,399.4 L476.4,555.8 L480.6,567.0 L484.8,348.2 L486.5,416.1 L489.0,335.1 L492.7,348.0 L494.1,385.9 L496.5,349.1 L498.1,516.3 L500.4,444.1 L503.2,526.7 L506.1,459.2 L509.1,452.2 L509.8,507.5 L512.7,503.0 L515.6,510.4 L517.2,444.8 L519.8,522.8 L522.1,441.1 L524.4,371.5 L527.9,451.0 L530.7,305.1 L534.4,512.1 L538.9,437.1 L540.7,477.8 L542.8,415.6 L545.3,336.5 L547.7,274.1 L551.2,441.8 L553.5,225.9 L556.3,463.9 L558.7,396.4 L560.5,494.6 L563.6,364.9 L565.7,480.2 L568.2,483.0 L570.8,473.8 L573.8,275.8 L576.1,373.5 L578.5,381.5 L580.8,422.0 L583.6,217.1 L586.2,375.3 L588.9,476.6 L591.5,617.4 L594.3,375.4 L596.9,417.7 L599.4,489.5 L602.9,455.1 L604.8,328.4 L607.1,381.6 L609.4,571.5 L613.4,327.2 L616.4,441.8 L619.2,321.8 L622.3,507.4 L624.3,375.4 L626.9,479.0 L629.7,476.1 L631.6,331.2 L635.5,372.5 L638.4,399.0 L641.4,417.9 L644.4,477.9 L647.4,577.3 L650.4,356.8 L652.7,376.8 L654.9,404.6 L657.2,536.5 L660.0,380.8 L661.9,486.0 L665.1,321.4 L668.8,511.0 L672.1,512.8 L675.1,452.2 L679.3,574.5 L682.1,443.0 L683.7,467.4 L686.1,325.3 L688.8,365.8 L691.4,402.8 L694.0,539.6 L696.3,443.2 L698.7,367.7 L701.4,438.7 L704.2,459.2 L705.6,359.6 L708.2,412.2 L710.8,553.5 L713.6,474.3 L716.4,389.5 L719.0,371.1 L721.7,287.4 L724.3,374.1 L726.8,521.5 L729.4,533.7 L732.2,415.5 L736.2,417.4 L738.5,550.0 L741.3,387.9 L744.1,337.7 L748.5,572.2 L752.7,377.3 L755.6,391.8 L758.5,493.0 L762.5,492.4 L763.6,451.6 L766.7,396.4 L770.2,476.7 L773.4,391.7 L776.3,484.3 L779.2,520.9 L781.6,497.2 L783.9,421.4 L786.2,375.4 L790.4,536.8 L793.0,446.1 L795.5,320.0 L798.6,427.8 L800.9,418.9 L803.2,360.3 L805.6,432.4 L808.0,385.5 L810.5,334.7 L814.9,392.3 L817.7,568.2 L819.1,436.0 L822.3,488.3 L825.4,415.0 L828.2,592.0 L832.3,395.2 L834.8,406.0 L837.3,462.7 L839.8,483.7 L842.8,408.6 L845.4,389.0 L848.0,327.7 L850.5,442.9 L854.7,312.1 L857.5,440.6 L859.8,395.3 L862.2,361.3 L865.4,361.3 L868.7,444.1 L870.8,365.5 L873.6,339.9 L876.4,317.2 L879.4,516.3 L881.7,502.9 L884.8,285.7 L888.2,378.9 L892.4,336.5 L894.8,423.1 L896.4,378.9 L898.7,391.1 L901.1,410.7 L903.4,500.4 L907.3,412.7 L909.8,427.2 L912.2,531.4 L914.3,412.0 L916.5,426.1 L918.7,453.4 L920.9,462.0 L923.0,368.4 L925.7,441.2 L928.5,494.1 L930.2,470.9 L932.0,497.6 L935.5,363.8 L938.3,444.1 L942.3,352.1 L944.6,456.9 L946.5,348.6 L949.4,384.6 L952.3,387.6 L956.5,501.8 L958.7,453.3 L961.0,445.3 L963.2,416.2 L965.3,502.3 L968.6,324.2 L971.1,427.2 L973.5,444.1 L976.5,420.8 L979.7,433.2 L982.8,490.2 L986.8,388.2 L989.6,529.8 L991.4,389.4 L995.6,414.4 L998.0,430.3 L1000.3,473.2 L1003.2,434.8 L1006.1,389.4 L1007.3,449.9 L1009.6,364.9 L1011.9,532.6 L1014.3,472.0 L1016.6,468.0 L1020.1,316.6 L1024.0,208.4 L1028.2,494.1 L1031.0,347.5 L1034.1,416.1 L1037.1,354.9 L1039.4,362.0 L1041.0,462.7 L1042.9,370.8 L1044.5,514.5 L1047.3,531.4 L1049.2,488.9 L1051.1,487.7 L1052.7,441.8 L1053.9,453.4 L1056.2,384.2 L1058.5,331.6 L1060.8,419.4 L1063.2,427.8 L1065.0,344.0 L1067.4,455.7 L1070.2,360.3 L1072.7,443.2 L1075.3,551.2 L1077.1,465.1 L1079.5,474.3 L1082.5,444.1 L1084.1,515.1 L1086.5,445.8 L1088.8,326.5 L1092.1,489.5 L1095.8,419.7 L1096.9,447.6 L1099.7,327.7 L1103.2,411.5 L1106.3,345.6 L1108.6,479.0 L1110.9,500.0 L1112.5,440.6 L1115.0,493.8 L1117.4,504.8 L1119.8,567.0 L1122.3,456.1 L1124.7,390.7 L1127.2,375.4 L1130.2,448.7 L1131.9,424.3 L1133.0,521.5 L1136.8,568.7 L1139.6,437.0 L1142.4,412.1 L1143.5,373.1 L1145.9,378.3 L1148.2,402.2 L1150.5,348.6 L1152.4,445.8 L1155.2,485.5 L1158.3,359.8 L1161.5,317.2 L1165.0,480.9 L1168.7,382.4 L1171.5,391.1 L1174.4,402.9 L1177.3,474.3 L1179.9,382.0 L1182.4,342.8 L1185.0,491.8 L1187.8,373.1 L1189.4,458.0 L1193.6,445.3 L1195.5,476.1 L1198.7,494.1 L1202.5,278.8 L1205.3,518.6 L1209.4,423.2 L1212.9,529.1 L1215.6,460.2 L1218.2,405.6 L1220.9,384.7 L1223.4,472.0 L1226.2,441.8 L1226.2,463.3 L1229.1,469.7 L1232.0,491.8 L1234.8,397.5 L1239.0,467.4 L1241.8,397.5 L1244.8,493.2 L1247.9,534.4 L1250.4,452.3 L1253.0,397.1 L1255.3,483.0 L1258.1,399.9 L1261.2,425.5 L1263.5,352.6 L1267.7,494.1 L1271.6,480.8 L1274.8,427.3 L1277.9,423.6 L1280.3,516.3 L1283.3,489.1 L1286.3,481.9 L1287.2,414.5 L1289.9,434.0 L1292.6,444.7 L1294.9,476.1 L1298.4,488.8 L1301.0,421.1 L1303.5,408.0 L1307.7,473.9 L1311.9,354.0 L1314.4,442.1 L1316.8,508.1 L1319.4,375.4 L1322.9,476.0 L1325.2,417.3 L1327.5,415.1 L1329.9,423.7 L1331.0,482.5 L1333.4,459.2 L1337.5,527.9 L1339.2,467.4 L1342.2,557.0 L1345.0,459.7 L1347.8,375.9 L1352.0,388.8 L1354.3,469.1 L1356.6,479.5 L1359.0,479.0 L1361.3,426.3 L1363.6,406.3 L1366.4,366.8 L1368.8,402.5 L1371.2,471.5 L1373.7,497.2 L1376.6,451.4 L1379.5,431.3 L1382.7,512.3 L1385.2,516.0 L1387.6,503.4 L1391.8,390.1 L1394.6,465.2 L1397.4,479.5 L1399.7,463.0 L1402.1,459.0 L1404.4,415.0 L1405.6,472.0 L1407.9,441.7 L1410.2,432.5 L1412.6,477.8 L1416.0,412.7 L1417.9,476.7 L1420.7,444.1 L1423.0,447.2 L1425.4,502.3 L1428.9,405.7 L1432.3,452.2 L1435.1,367.3 L1438.2,376.0 L1441.1,401.8 L1444.0,453.4 L1446.3,425.5 L1448.7,476.5 L1451.0,483.7 L1453.8,385.9 L1456.3,472.0 L1459.8,305.5 L1462.6,464.2 L1465.3,471.2 L1468.0,481.5 L1470.8,493.0 L1474.3,361.9 L1477.0,397.4 L1479.7,406.4 L1482.4,463.9 L1485.9,391.1 L1488.6,389.1 L1491.4,385.0 L1494.1,348.2 L1496.4,481.3 L1498.7,431.7 L1501.1,420.8 L1503.4,510.1 L1505.7,568.7 L1508.0,488.9 L1510.4,461.7 L1512.7,403.8 L1515.0,432.2 L1517.4,473.2 L1521.6,370.8 L1525.5,525.6 L1528.5,431.3 L1529.7,539.6 L1532.5,412.7 L1535.4,419.3 L1538.3,421.4 L1540.0,510.4 L1542.6,458.0 L1545.3,411.5 L1548.8,526.3 L1551.6,438.3 L1554.5,470.8 L1557.4,491.1 L1560.5,440.6 L1563.2,526.7 L1566.3,469.7 L1568.6,513.9 L1571.2,512.2 L1574.7,443.5 L1575.1,444.1 L1577.8,456.9 L1580.5,537.2 L1582.8,537.4 L1585.1,514.5 L1586.8,437.7 L1590.5,423.2 L1592.6,475.5 L1595.6,422.2 L1598.6,396.4 L1602.6,421.4 L1606.1,428.4 L1608.4,487.1 L1611.5,484.3 L1614.3,463.9 L1617.3,511.6 L1620.8,457.5 L1623.1,422.6 L1626.6,422.6 L1631.0,485.4 L1634.5,544.2 L1637.5,488.9 L1638.9,437.1 L1642.7,456.3 L1645.0,592.0 L1648.0,522.1 L1650.4,557.7 L1654.3,330.5 L1658.5,519.3 L1662.5,386.4 L1664.8,510.4 L1667.4,391.3 L1670.2,484.8 L1671.8,404.5 L1674.1,494.1 L1677.1,473.2 L1678.3,487.1 L1680.6,482.0 L1683.0,410.4 L1685.3,566.3 L1687.2,429.7 L1690.0,482.5 L1693.4,414.5 L1697.4,571.0 L1700.4,450.4 L1703.9,468.0 L1705.6,518.1 L1707.4,491.8 L1709.3,522.1 L1711.4,480.2 L1713.2,512.8 L1717.2,433.6 L1718.4,474.3 L1722.6,451.1 L1725.4,582.6 L1727.7,454.8 L1730.0,378.9 L1732.3,414.3 L1734.7,502.3 L1737.0,414.5 L1739.6,482.0 L1743.1,438.3 L1745.2,484.8 L1749.3,424.3 L1752.4,474.3 L1755.2,430.2 L1757.0,480.9 L1759.6,394.0 L1762.0,502.9 L1764.5,512.8 L1766.8,488.2 L1769.1,450.5 L1770.3,441.2 L1773.8,425.5 L1775.4,518.6 L1778.5,448.2 L1782.0,397.5 L1784.8,531.4 L1786.6,509.3 L1788.2,529.1 L1791.3,433.4 L1794.3,140.9 L1798.3,488.3 L1800.6,465.9 L1802.9,403.4 L1805.3,432.6 L1807.6,515.1 L1811.1,412.7 L1812.7,460.4 L1815.3,351.7 L1817.8,416.5 L1820.4,476.7 L1822.7,431.3 L1823.4,487.1 L1826.0,412.4 L1828.5,340.5 L1830.9,448.7 L1833.9,307.9 L1838.3,548.4 L1841.2,464.6 L1844.1,441.8 L1846.0,491.1 L1848.8,486.6 L1853.0,412.2 L1855.3,456.0 L1857.7,534.4 L1860.0,468.6 L1862.3,384.7 L1863.0,459.2 L1866.5,403.8 L1868.8,498.1 L1872.8,442.9 L1872.8,442.4 L1875.6,520.9 L1877.5,507.0 L1879.8,537.2 L1883.7,438.8 L1886.1,484.3 L1888.4,562.1 L1890.7,365.6 L1893.3,406.6 L1895.9,405.0 L1898.4,431.9 L1900.7,501.1 L1904.7,476.1 L1907.0,334.0 L1909.5,343.3 L1911.9,363.2 L1915.4,530.9 L1918.7,458.1 L1918.7,525.6 L1921.1,418.6 L1923.6,394.0 L1924.7,466.2 L1928.0,373.1 L1931.7,540.7 L1934.5,490.7 L1937.3,555.9 L1939.2,454.6 L1941.0,504.6 L1942.7,376.6 L1945.5,466.2 L1949.2,388.7 L1951.5,467.4 L1954.3,431.3 L1958.5,612.2 L1961.3,550.1 L1963.6,581.9 L1965.3,526.8 L1967.6,579.9 L1970.6,474.4 L1973.3,489.0 L1976.0,541.9 L1977.6,399.4 L1981.1,474.9 L1984.6,491.8 L1988.1,479.0 L1989.3,502.9 L1991.8,541.0 L1994.4,557.0 L1996.2,474.4 L1999.3,608.3 L2000.9,479.6 L2003.8,447.0 L2006.7,429.0 L2009.5,566.3 L2011.9,489.1 L2014.2,394.0 L2017.2,443.5 L2017.2,483.7 L2020.7,455.7 L2022.6,473.2 L2024.2,458.1 L2026.9,472.5 L2029.6,541.2 L2031.2,416.6 L2033.5,508.1 L2036.4,436.8 L2039.3,391.0 L2042.8,537.9 L2047.0,336.3 L2049.4,550.0 L2051.9,513.4 L2054.5,445.3 L2054.5,444.7 L2058.4,527.4 L2060.3,391.7 L2063.2,416.9 L2066.1,423.7 L2069.6,466.2 L2071.9,423.2 L2075.4,508.8 L2078.5,403.4 L2081.3,521.4 L2082.4,488.3 L2085.9,570.5 L2088.2,450.5 L2090.6,448.2 L2092.9,439.5 L2095.7,500.0 L2098.3,410.4 L2101.1,487.4 L2103.9,574.5 L2105.7,488.3 L2109.2,555.9 L2111.5,494.2 L2114.6,504.6 L2116.2,426.5 L2119.1,422.2 L2122.0,404.1 L2124.4,424.4 L2126.7,443.5 L2128.3,511.6 L2131.2,464.4 L2134.1,410.4 L2137.2,493.0 L2140.7,459.2 L2143.5,539.1 L2146.5,454.6 L2148.3,523.7 L2151.1,481.4 L2153.9,513.2 L2157.4,449.9 L2160.0,488.3 L2163.5,460.4 L2167.4,470.8 L2168.6,399.9 L2171.1,460.4 L2173.5,481.9 L2177.0,758.5 L2179.3,490.7 L2181.2,525.6 L2182.8,362.0 L2185.8,325.3 L2189.8,476.7 L2192.8,422.0 L2193.3,443.5 L2196.3,609.4 L2200.3,418.5 L2200.3,450.5 L2203.3,512.8 L2207.3,395.2 L2210.8,461.5 L2211.5,430.2 L2213.8,507.6 L2216.6,476.7 L2218.4,586.1 L2221.2,481.9 L2225.4,411.1 L2229.4,532.6 L2231.7,423.2 L2234.1,454.0 L2236.8,506.9 L2239.2,319.5 L2241.9,499.7 L2244.5,523.7 L2246.9,461.1 L2251.1,571.0 L2253.9,550.1 L2255.0,654.1 L2257.9,517.5 L2260.8,449.3 L2261.3,394.0 L2264.3,513.5 L2266.7,430.2 L2267.8,451.6 L2270.2,532.9 L2272.5,661.8 L2276.7,440.6 L2279.5,557.0 L2281.3,462.7 L2284.1,550.0 L2286.5,462.1 L2287.2,384.7 L2289.5,524.4 L2292.3,187.5 L2294.6,414.0 L2296.9,474.9 L2299.7,534.4 L2303.9,502.9 L2305.6,488.4 L2308.1,411.5 L2312.1,460.5 L2314.4,532.6 L2317.9,490.1 L2320.9,461.6 L2324.9,488.9 L2327.2,541.9 L2329.6,501.6 L2331.9,498.8 L2335.4,557.0 L2339.3,375.4 L2341.7,448.2 L2345.9,534.9 L2348.2,530.3 L2351.2,581.0 L2353.5,347.5 L2355.2,467.4 L2357.5,431.3 L2358.7,534.9 L2361.0,502.3 L2361.5,551.2 L2364.1,464.8 L2366.8,448.8 L2368.0,504.6 L2370.3,401.6 L2373.8,341.6 L2375.4,568.7 L2378.0,490.7 L2380.8,546.5 L2383.1,521.5 L2385.5,431.3 L2387.1,482.5 L2388.9,422.0 L2391.3,439.4 L2395.5,415.5 L2399.9,516.3 L2402.3,501.2 L2404.7,464.3 L2407.1,458.1 L2410.4,532.6 L2413.9,444.1 L2413.9,443.5 L2416.2,546.7 L2418.5,561.7 L2421.3,441.1 L2423.9,610.6 L2426.2,488.3 L2430.4,678.6 L2433.2,562.9 L2437.4,759.4 L2440.2,519.7 L2443.0,468.6 L2444.8,513.9 L2448.8,447.6 L2448.8,447.5 L2451.6,513.7 L2454.4,635.5 L2457.2,433.6 L2460.0,480.8 L2462.3,612.9 L2463.9,495.3 L2467.4,649.5 L2471.2,483.0 L2472.8,568.7 L2475.6,487.9 L2477.5,648.3 L2480.1,601.6 L2482.8,479.7 L2485.1,726.3 L2487.9,399.2 L2490.2,473.2 L2492.4,522.1 L2494.7,679.7 L2497.3,579.8 L2499.6,517.5 L2502.6,767.1 L2505.8,538.9 L2508.9,507.0 L2511.2,546.5 L2515.2,456.4 L2517.1,530.2 L2519.4,501.3 L2521.7,455.7 L2525.7,532.1 L2528.7,426.7 L2531.0,543.0 L2534.5,364.2 L2538.0,402.8 L2540.3,532.6 L2541.5,522.1 L2544.3,738.4 L2547.0,534.3 L2549.7,475.5 L2553.2,478.4 L2554.3,510.4 L2558.3,464.6 L2560.6,531.4 L2563.2,448.2 L2563.6,448.8 L2567.6,571.7 L2569.9,526.2 L2572.3,506.8 L2574.6,502.3 L2576.4,533.7 L2578.8,509.9 L2582.7,469.2 L2586.9,472.6 L2590.4,511.6 L2592.3,396.4 L2595.5,564.0 L2598.1,433.6 L2600.9,536.1 L2604.9,430.2 L2609.1,433.0 L2611.4,451.7 L2613.7,506.9 L2616.7,432.9 L2621.2,538.4 L2623.0,464.5 L2626.5,430.2 L2629.6,532.1 L2633.5,436.0 L2636.5,479.5 L2640.5,469.7 L2642.8,513.5 L2645.2,520.9 L2648.0,468.1 L2650.9,480.0 L2653.8,557.7 L2655.6,461.4 L2658.0,459.7 L2660.3,455.7 L2662.6,468.9 L2665.0,513.4 L2668.5,575.2 L2670.8,540.3 L2671.9,547.7 L2675.4,479.0 L2679.6,566.3 L2684.1,417.3 L2687.1,523.3 L2690.1,433.6 L2694.1,539.1 L2695.9,497.7 L2697.6,529.1 L2698.7,497.1" stroke="#000" stroke-width="4.7"/>
</g>
<rect x="375.5" y="108.5" width="2325" height="693" fill="none" stroke="#000" stroke-width="3.33"/>
<g stroke="#000" stroke-width="3.33">
<path d="M503.5,801.5v14.6M1014.5,801.5v14.6M1525.5,801.5v14.6M2036.4,801.5v14.6M2547.4,801.5v14.6"/>
<path d="M375.5,197.4h-14.6M375.5,348.8h-14.6M375.5,500.1h-14.6M375.5,651.5h-14.6"/>
</g>
<g style="opacity:0.999" text-rendering="geometricPrecision">
<text x="976.05" y="83.70" font-size="55.50px" textLength="242.90" lengthAdjust="spacingAndGlyphs">Spectrum</text>
<text x="1234.12" y="83.70" font-size="55.50px" textLength="49.62" lengthAdjust="spacingAndGlyphs">of</text>
<text x="1298.19" y="83.70" font-size="55.50px" textLength="154.20" lengthAdjust="spacingAndGlyphs">object</text>
<text x="1469.22" y="83.70" font-size="55.50px" textLength="158.22" lengthAdjust="spacingAndGlyphs">11280</text>
<text x="1643.99" y="83.70" font-size="55.50px" textLength="45.62" lengthAdjust="spacingAndGlyphs">in</text>
<text x="1704.69" y="83.70" font-size="55.50px" textLength="192.57" lengthAdjust="spacingAndGlyphs">candels</text>
<text x="1897.13" y="83.70" font-size="55.50px" textLength="20.53" lengthAdjust="spacingAndGlyphs">-</text>
<text x="1915.30" y="83.70" font-size="55.50px" textLength="101.78" lengthAdjust="spacingAndGlyphs">cdfs</text>
<text x="2017.47" y="83.70" font-size="55.50px" textLength="20.93" lengthAdjust="spacingAndGlyphs">-</text>
<text x="2036.16" y="83.70" font-size="55.50px" textLength="62.27" lengthAdjust="spacingAndGlyphs">01</text>
<text x="466.91" y="851.80" font-size="30.40px" textLength="71.77" lengthAdjust="spacingAndGlyphs">5000</text>
<text x="977.58" y="851.80" font-size="30.40px" textLength="72.11" lengthAdjust="spacingAndGlyphs">6000</text>
<text x="1488.58" y="851.80" font-size="30.40px" textLength="72.11" lengthAdjust="spacingAndGlyphs">7000</text>
<text x="1999.64" y="851.80" font-size="30.40px" textLength="71.94" lengthAdjust="spacingAndGlyphs">8000</text>
<text x="2510.64" y="851.80" font-size="30.40px" textLength="71.94" lengthAdjust="spacingAndGlyphs">9000</text>
<text x="286.72" y="208.50" font-size="39.00px" textLength="57.13" lengthAdjust="spacingAndGlyphs">1.0</text>
<text x="287.38" y="359.90" font-size="39.00px" textLength="56.46" lengthAdjust="spacingAndGlyphs">0.5</text>
<text x="287.38" y="511.20" font-size="39.00px" textLength="56.46" lengthAdjust="spacingAndGlyphs">0.0</text>
<text x="256.69" y="662.60" font-size="39.00px" textLength="87.24" lengthAdjust="spacingAndGlyphs">−0.5</text>
<text x="1439.51" y="887.90" font-size="35.20px" textLength="197.08" lengthAdjust="spacingAndGlyphs">Wavelength</text>
<text transform="translate(225.30,0) rotate(-90)" x="-712.25" y="0" font-size="50.00px" textLength="55.67" lengthAdjust="spacingAndGlyphs">10</text>
<text transform="translate(207.00,0) rotate(-90)" x="-654.27" y="0" font-size="33.50px" textLength="66.69" lengthAdjust="spacingAndGlyphs">−18</text>
<text transform="translate(225.30,0) rotate(-90)" x="-572.03" y="0" font-size="50.00px" textLength="74.92" lengthAdjust="spacingAndGlyphs">erg</text>
<text transform="translate(225.30,0) rotate(-90)" x="-479.66" y="0" font-size="50.00px" textLength="22.64" lengthAdjust="spacingAndGlyphs">s</text>
<text transform="translate(207.00,0) rotate(-90)" x="-454.48" y="0" font-size="33.50px" textLength="45.06" lengthAdjust="spacingAndGlyphs">−1</text>
<text transform="translate(225.30,0) rotate(-90)" x="-399.88" y="0" font-size="50.00px" textLength="70.59" lengthAdjust="spacingAndGlyphs">cm</text>
<text transform="translate(207.00,0) rotate(-90)" x="-328.46" y="0" font-size="33.50px" textLength="44.73" lengthAdjust="spacingAndGlyphs">−2</text>
<text transform="translate(225.30,0) rotate(-90)" x="-273.23" y="0" font-size="50.00px" textLength="30.42" lengthAdjust="spacingAndGlyphs">Å</text>
<text transform="translate(207.00,0) rotate(-90)" x="-240.59" y="0" font-size="33.50px" textLength="45.28" lengthAdjust="spacingAndGlyphs">−1</text>
</g>
</svg>
</body></html>
